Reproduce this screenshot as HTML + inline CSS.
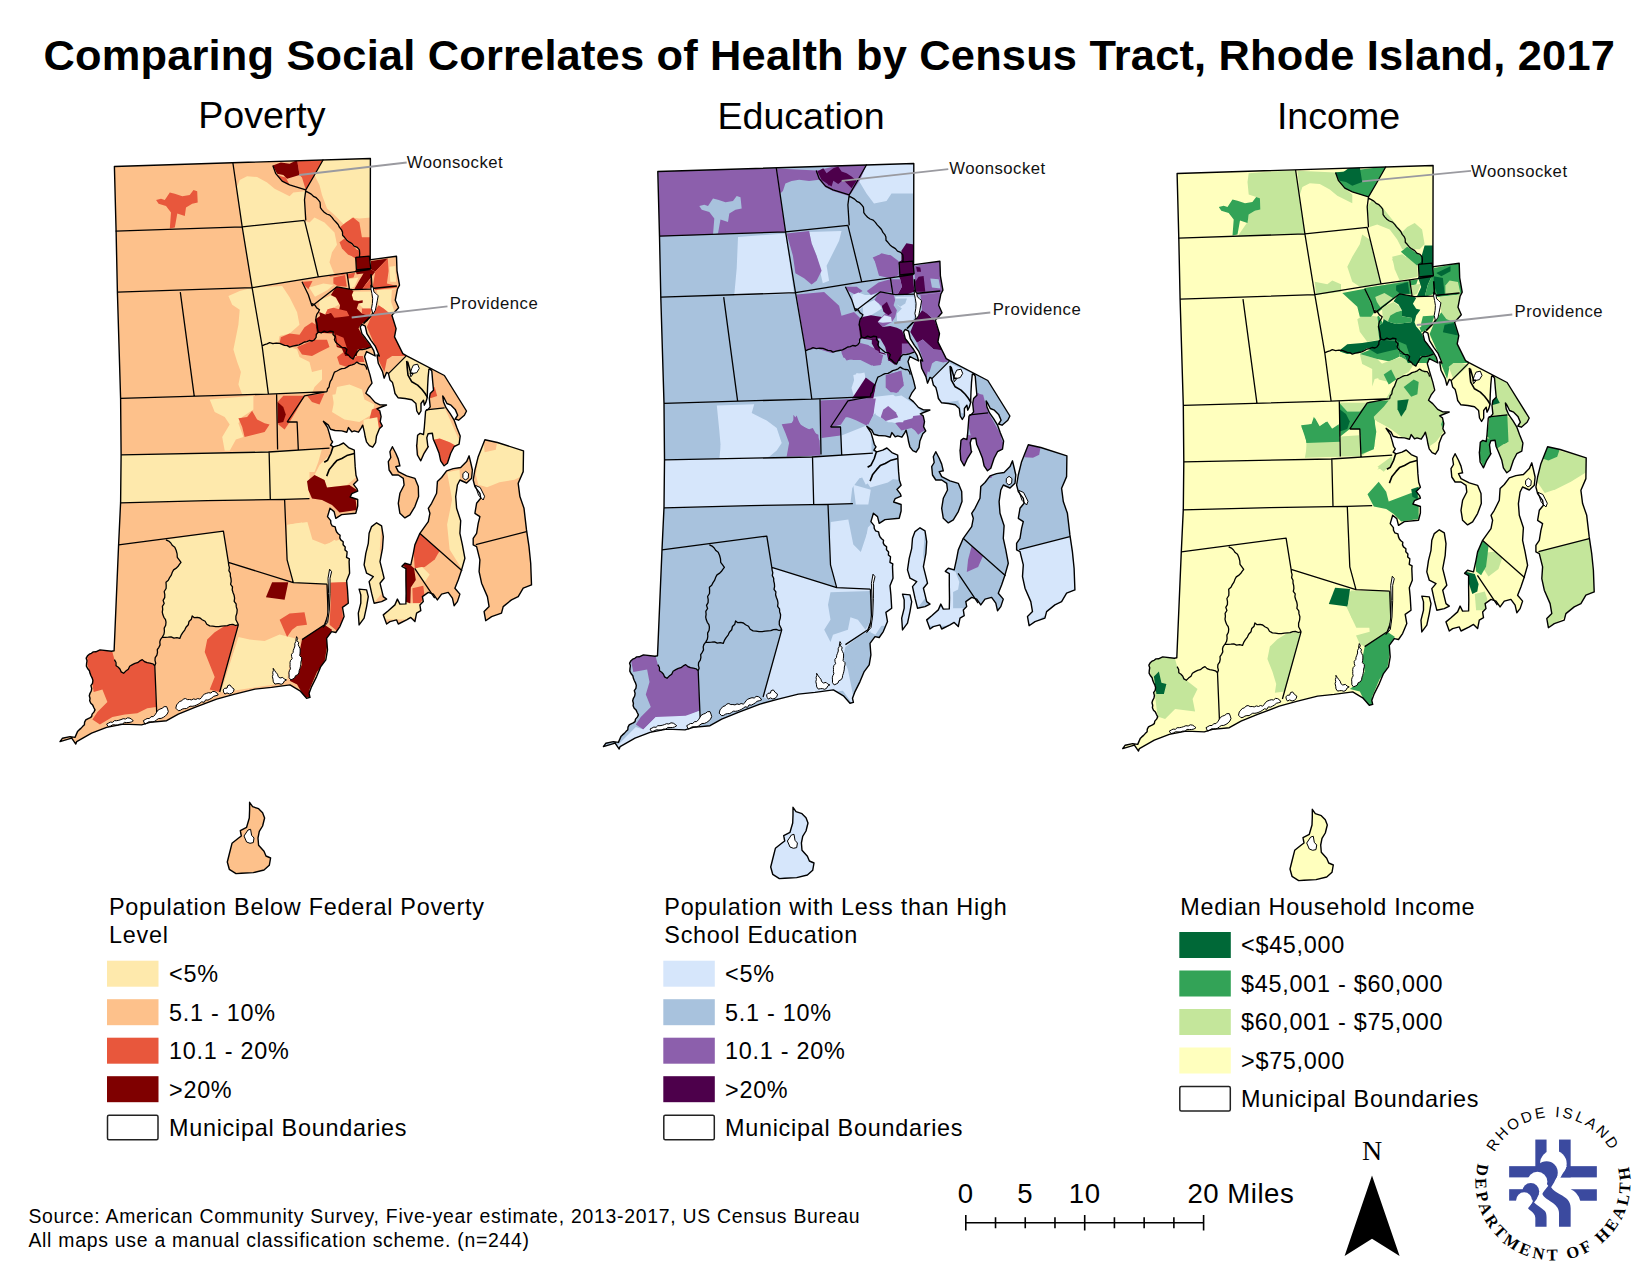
<!DOCTYPE html>
<html><head><meta charset="utf-8"><title>Comparing Social Correlates of Health by Census Tract, Rhode Island, 2017</title>
<style>
html,body{margin:0;padding:0;background:#fff}
svg{display:block}
text{font-family:"Liberation Sans",sans-serif;fill:#000}
.ttl{font-size:43.4px;font-weight:bold;letter-spacing:0.19px}
.sub{font-size:37.6px}
.lg{font-size:23.4px;letter-spacing:0.73px}
.lb{font-size:16.7px;fill:#111;letter-spacing:0.5px}
.sb{font-size:27.6px;letter-spacing:0.5px}
.src{font-size:19.4px;letter-spacing:0.74px}
</style></head><body>
<svg width="1651" height="1275" viewBox="0 0 1651 1275">
<rect width="1651" height="1275" fill="#fff"/>
<text x="829.3" y="69.5" class="ttl" text-anchor="middle">Comparing Social Correlates of Health by Census Tract, Rhode Island, 2017</text>
<text x="261.9" y="128.2" class="sub" text-anchor="middle">Poverty</text>
<text x="801" y="129" class="sub" text-anchor="middle">Education</text>
<text x="1338.5" y="129" class="sub" text-anchor="middle">Income</text>

<g transform="translate(0 0)">
<clipPath id="clip1"><path d="M114.4 166.5 L370.4 158.5 L370.2 259.8 L371 259.6 L396.5 256.3 L397 270.9 L399.5 285.1 L397.4 289.3 L395.3 300.2 L398.6 307.7 L391.9 315.2 L396.1 328.6 L394.5 336.9 L402.8 353.6 L406.7 355.9 L444.4 375.5 L466.5 411 L464.4 415.2 L458.6 420.2 L455.2 419 L457.7 415.2 L455.2 409.4 L451 405.2 L446.9 403.5 L444.4 398.5 L442.7 396 L443.5 401.9 L446 407.7 L450.2 413.6 L454 419.8 L456.9 427.8 L460.2 436.1 L459.9 438.3 L459.1 444.2 L454.1 446.7 L450.7 453.3 L447.4 463.3 L444.1 465.8 L440.7 460.8 L439.1 453.3 L435.8 445 L433.3 439.2 L432.4 433.3 L432.2 433.3 L428.1 433.8 L426.8 437.8 L427.8 446 L428.3 446.7 L424.1 453.3 L420.8 460.8 L417.4 455 L416.6 445 L416.8 445 L417.6 435.3 L420.1 433.4 L423.5 434.5 L424.3 427.8 L425.6 411 L428.1 409.4 L430.2 406.9 L429.3 398.5 L430.2 393.5 L433.5 390.2 L432.7 381.8 L431.8 370.9 L430.2 369.3 L428.9 369.3 L428.1 377.6 L427.6 386.8 L427.2 397.7 L426 401.9 L424.3 405.2 L423.5 400.2 L421 403.5 L421 411 L418.9 414.4 L416.8 411 L415.9 403.5 L411.8 399.8 L405.1 398.5 L398 397.7 L395 393.5 L393.8 387.6 L392.5 382.6 L390 380.1 L388.4 373.4 L386.6 372.4 L384.1 378.2 L382.5 371.6 L378.3 363.3 L377 354.9 L379.4 356 L375.2 346.1 L371 340.3 L366.9 333.6 L365.2 326.1 L361.9 324.4 L360.2 326.9 L361.9 333.6 L365.2 337.8 L370.2 344.5 L373.6 350.3 L375.2 356 L366.6 351.6 L364.6 356.6 L367.5 366.6 L370 374.9 L372 383.2 L368.3 388.2 L365.8 393.2 L370 396.6 L375 402.4 L380 404.9 L386.5 405 L380.2 407.5 L376.9 408.8 L379.8 410.9 L381.1 416.7 L380.2 421.7 L382.3 425.9 L379.4 428.8 L376.5 435.9 L375.6 442.6 L372.7 447.2 L369.4 445.6 L366.5 441.8 L365.2 436.8 L364.4 432.2 L362.7 425.1 L361.4 427.6 L358.5 432.2 L354.3 430.9 L351.8 431.8 L348.5 427.6 L346.8 432.2 L341.8 430.9 L335.1 430.5 L330.5 429.3 L328.4 425.1 L323.4 421.3 L327.6 427.6 L329.3 433.4 L330.9 439.3 L332.6 441.8 L330.5 445.1 L333.4 446.8 L339.3 445.1 L343.5 443 L348.5 447.6 L354.3 450.2 L354.7 458.5 L355.2 466.9 L356 475.2 L357.7 480.2 L353.5 484.4 L356.8 488.6 L357.7 491.1 L351.8 493.6 L350.2 497 L357.7 499.5 L357.7 506 L355.8 513.3 L341.6 514.6 L335.8 518.3 L334.1 511.6 L330 508.3 L327.5 516.6 L329.1 518.6 L330.7 520.6 L330.8 523.3 L332.1 525.8 L335.2 526.9 L335.8 529.9 L336.7 532 L338.2 533.7 L340.1 535.3 L339.8 537.9 L340.8 539.9 L343.2 541.8 L343.1 544.8 L345.2 546.9 L345 549.9 L347.1 551.8 L346.9 554.5 L346.5 557.3 L349.4 558.9 L349.1 561.6 L349.6 573.2 L346.6 580.7 L347.5 589.9 L348.3 603.2 L342.5 607.4 L344.1 616.6 L339.9 626.6 L335.8 632.5 L331.6 631.6 L326.6 638.3 L327.5 649.9 L325.8 659.9 L320.8 666.6 L316.6 676.6 L311.6 686.6 L309.1 693.3 L310 697.4 L306.6 698.2 L300 690.8 L290 684.9 L271.5 687.4 L254.9 689.1 L234.9 694.1 L216.6 699.1 L194.9 707.4 L178.3 714.1 L166.6 720.7 L149.9 722.4 L141.6 724.9 L123.3 724.1 L106.6 727.4 L91.6 733.2 L76.7 741.6 L75.8 744.1 L71.7 738.2 L60 741.6 L62.5 738.2 L70 736.6 L75 737.4 L77.5 731.6 L79.1 729.9 L80.9 728.4 L82.5 726.6 L84.4 724.8 L84.6 722.1 L85.8 719.9 L87.7 718.8 L89.8 717.9 L91.6 716.6 L92.1 714.1 L93.9 712.1 L95 709.9 L93.8 707.5 L92.7 705.1 L90.8 703.2 L89.7 700.8 L90 698.3 L89.3 695.8 L90 693.3 L91.3 691 L91.7 688.4 L90.9 685.6 L92.5 683.3 L92.9 680.5 L92.2 678.1 L91 675.7 L90 673.3 L89.4 670.7 L87.6 668.5 L86.4 666.1 L86.6 663.3 L87 660.8 L86.2 658.2 L87.5 655.8 L89.3 654.2 L91.4 653.3 L93.3 651.9 L95.8 651.8 L97.9 650.8 L100 649.9 L111.6 651.3 L114.1 650.8 L118.6 544.8 L120.6 502.4 L121.1 455 L120.6 398.3 L117.4 292.2 L116.1 231.1Z M469.1 455.8 L470.7 462.5 L472.4 470 L471.6 478.3 L466.6 483 L459.9 480 L457.4 485 L455.7 496.6 L456.6 508.3 L460.7 520.8 L459.9 533.3 L462.4 544.9 L464.9 558.3 L461.6 569.9 L458.2 579.9 L454.9 588.2 L459.9 594.1 L457.4 601.6 L454.1 605.7 L452.4 598.2 L448.2 592.4 L441.6 594.1 L437.4 599.9 L433.3 594.1 L428.3 592.4 L422.4 596.6 L423.3 601.6 L419.9 604.9 L420.8 610.7 L416.6 613.2 L414.9 621.6 L410.8 617.4 L406.6 619.9 L398.3 624 L396.6 619.9 L389.9 621.6 L386.6 624 L383.3 614.9 L388.3 610.7 L394.9 604.9 L397.4 599.1 L399.9 604.1 L405.9 603.9 L406.1 593.2 L405.9 579.9 L405.9 568.6 L401.9 566.3 L404.9 563.3 L410.8 564.9 L413.3 553.3 L414.9 544.9 L419.9 533.3 L428.3 521.6 L429.9 513.3 L428.3 508.3 L431.6 503.3 L436.6 493.3 L437.4 481.6 L441.6 477.5 L446.6 470.8 L453.2 468.6 L460.7 467.5 L466.6 461.6Z M376.6 522.8 L381.6 525.8 L383.3 536.6 L382.5 548.3 L380 561.6 L382.5 571.6 L384.1 578.2 L380 583.2 L383.3 596.6 L386.6 599.1 L381.6 601.6 L374.1 603.2 L371.6 593.2 L369.1 581.6 L373.3 576.6 L366.6 573.2 L364.1 564.9 L365.8 553.3 L368.3 543.3 L369.1 533.3 L371.6 526.6Z M359.1 589.1 L366.6 589.9 L368.3 596.6 L366.6 606.6 L364.1 618.2 L359.1 624.9 L358.3 613.2 L360.8 603.2 L360.8 594.9Z M392.4 446.7 L395.8 453.3 L398.3 459.1 L399.9 465.8 L395.8 466.6 L398.3 471.6 L406.6 475.8 L414.9 478.3 L418.3 486.6 L418.6 496.6 L414.9 506.6 L409.9 514.9 L404.9 517.9 L399.9 513.3 L398.3 503.3 L399.9 493.3 L404.1 485 L403.3 478.3 L398.3 475 L392.4 475 L389.1 470 L388.3 461.6 L390.8 457.5 L389.9 451.7Z M484.9 439.7 L497.4 442.5 L523.5 450.8 L523.2 471.6 L518.2 483.3 L519.9 496.6 L524 508.3 L526.5 529.9 L529 546.6 L530.7 563.3 L531.5 584.9 L523.2 588.2 L518.2 596.6 L511.5 599.9 L503.2 606.6 L501.5 613.2 L491.6 616.6 L485.7 620.7 L484.1 611.6 L489.1 606.6 L487.4 596.6 L481.6 583.2 L479.1 571.6 L479.9 559.9 L476.6 546.6 L473.2 544.9 L473.2 538.3 L476.6 533.3 L478.2 523.3 L479.9 516.6 L474.9 513.3 L476.6 503.3 L480.7 498.3 L479.9 493.3 L474.9 486.6 L473.2 480 L474.9 470 L478.2 456.7Z M249.6 802.3 L252.6 806.7 L258.6 808.7 L262.6 812.7 L264.6 818 L262.6 826 L259.3 831.3 L258 838 L258.6 845.3 L264 851.3 L266 856 L270.6 858 L269.3 865.3 L264 870 L253.3 872.6 L241.3 873.3 L236 873.6 L229.3 869.3 L227.3 862 L229.3 854 L232 843.3 L238.6 838 L241.3 836 L240.3 830.6 L246.6 827.3 L249.3 818 L249.6 810Z"/></clipPath>
<path d="M114.4 166.5 L370.4 158.5 L370.2 259.8 L371 259.6 L396.5 256.3 L397 270.9 L399.5 285.1 L397.4 289.3 L395.3 300.2 L398.6 307.7 L391.9 315.2 L396.1 328.6 L394.5 336.9 L402.8 353.6 L406.7 355.9 L444.4 375.5 L466.5 411 L464.4 415.2 L458.6 420.2 L455.2 419 L457.7 415.2 L455.2 409.4 L451 405.2 L446.9 403.5 L444.4 398.5 L442.7 396 L443.5 401.9 L446 407.7 L450.2 413.6 L454 419.8 L456.9 427.8 L460.2 436.1 L459.9 438.3 L459.1 444.2 L454.1 446.7 L450.7 453.3 L447.4 463.3 L444.1 465.8 L440.7 460.8 L439.1 453.3 L435.8 445 L433.3 439.2 L432.4 433.3 L432.2 433.3 L428.1 433.8 L426.8 437.8 L427.8 446 L428.3 446.7 L424.1 453.3 L420.8 460.8 L417.4 455 L416.6 445 L416.8 445 L417.6 435.3 L420.1 433.4 L423.5 434.5 L424.3 427.8 L425.6 411 L428.1 409.4 L430.2 406.9 L429.3 398.5 L430.2 393.5 L433.5 390.2 L432.7 381.8 L431.8 370.9 L430.2 369.3 L428.9 369.3 L428.1 377.6 L427.6 386.8 L427.2 397.7 L426 401.9 L424.3 405.2 L423.5 400.2 L421 403.5 L421 411 L418.9 414.4 L416.8 411 L415.9 403.5 L411.8 399.8 L405.1 398.5 L398 397.7 L395 393.5 L393.8 387.6 L392.5 382.6 L390 380.1 L388.4 373.4 L386.6 372.4 L384.1 378.2 L382.5 371.6 L378.3 363.3 L377 354.9 L379.4 356 L375.2 346.1 L371 340.3 L366.9 333.6 L365.2 326.1 L361.9 324.4 L360.2 326.9 L361.9 333.6 L365.2 337.8 L370.2 344.5 L373.6 350.3 L375.2 356 L366.6 351.6 L364.6 356.6 L367.5 366.6 L370 374.9 L372 383.2 L368.3 388.2 L365.8 393.2 L370 396.6 L375 402.4 L380 404.9 L386.5 405 L380.2 407.5 L376.9 408.8 L379.8 410.9 L381.1 416.7 L380.2 421.7 L382.3 425.9 L379.4 428.8 L376.5 435.9 L375.6 442.6 L372.7 447.2 L369.4 445.6 L366.5 441.8 L365.2 436.8 L364.4 432.2 L362.7 425.1 L361.4 427.6 L358.5 432.2 L354.3 430.9 L351.8 431.8 L348.5 427.6 L346.8 432.2 L341.8 430.9 L335.1 430.5 L330.5 429.3 L328.4 425.1 L323.4 421.3 L327.6 427.6 L329.3 433.4 L330.9 439.3 L332.6 441.8 L330.5 445.1 L333.4 446.8 L339.3 445.1 L343.5 443 L348.5 447.6 L354.3 450.2 L354.7 458.5 L355.2 466.9 L356 475.2 L357.7 480.2 L353.5 484.4 L356.8 488.6 L357.7 491.1 L351.8 493.6 L350.2 497 L357.7 499.5 L357.7 506 L355.8 513.3 L341.6 514.6 L335.8 518.3 L334.1 511.6 L330 508.3 L327.5 516.6 L329.1 518.6 L330.7 520.6 L330.8 523.3 L332.1 525.8 L335.2 526.9 L335.8 529.9 L336.7 532 L338.2 533.7 L340.1 535.3 L339.8 537.9 L340.8 539.9 L343.2 541.8 L343.1 544.8 L345.2 546.9 L345 549.9 L347.1 551.8 L346.9 554.5 L346.5 557.3 L349.4 558.9 L349.1 561.6 L349.6 573.2 L346.6 580.7 L347.5 589.9 L348.3 603.2 L342.5 607.4 L344.1 616.6 L339.9 626.6 L335.8 632.5 L331.6 631.6 L326.6 638.3 L327.5 649.9 L325.8 659.9 L320.8 666.6 L316.6 676.6 L311.6 686.6 L309.1 693.3 L310 697.4 L306.6 698.2 L300 690.8 L290 684.9 L271.5 687.4 L254.9 689.1 L234.9 694.1 L216.6 699.1 L194.9 707.4 L178.3 714.1 L166.6 720.7 L149.9 722.4 L141.6 724.9 L123.3 724.1 L106.6 727.4 L91.6 733.2 L76.7 741.6 L75.8 744.1 L71.7 738.2 L60 741.6 L62.5 738.2 L70 736.6 L75 737.4 L77.5 731.6 L79.1 729.9 L80.9 728.4 L82.5 726.6 L84.4 724.8 L84.6 722.1 L85.8 719.9 L87.7 718.8 L89.8 717.9 L91.6 716.6 L92.1 714.1 L93.9 712.1 L95 709.9 L93.8 707.5 L92.7 705.1 L90.8 703.2 L89.7 700.8 L90 698.3 L89.3 695.8 L90 693.3 L91.3 691 L91.7 688.4 L90.9 685.6 L92.5 683.3 L92.9 680.5 L92.2 678.1 L91 675.7 L90 673.3 L89.4 670.7 L87.6 668.5 L86.4 666.1 L86.6 663.3 L87 660.8 L86.2 658.2 L87.5 655.8 L89.3 654.2 L91.4 653.3 L93.3 651.9 L95.8 651.8 L97.9 650.8 L100 649.9 L111.6 651.3 L114.1 650.8 L118.6 544.8 L120.6 502.4 L121.1 455 L120.6 398.3 L117.4 292.2 L116.1 231.1Z M469.1 455.8 L470.7 462.5 L472.4 470 L471.6 478.3 L466.6 483 L459.9 480 L457.4 485 L455.7 496.6 L456.6 508.3 L460.7 520.8 L459.9 533.3 L462.4 544.9 L464.9 558.3 L461.6 569.9 L458.2 579.9 L454.9 588.2 L459.9 594.1 L457.4 601.6 L454.1 605.7 L452.4 598.2 L448.2 592.4 L441.6 594.1 L437.4 599.9 L433.3 594.1 L428.3 592.4 L422.4 596.6 L423.3 601.6 L419.9 604.9 L420.8 610.7 L416.6 613.2 L414.9 621.6 L410.8 617.4 L406.6 619.9 L398.3 624 L396.6 619.9 L389.9 621.6 L386.6 624 L383.3 614.9 L388.3 610.7 L394.9 604.9 L397.4 599.1 L399.9 604.1 L405.9 603.9 L406.1 593.2 L405.9 579.9 L405.9 568.6 L401.9 566.3 L404.9 563.3 L410.8 564.9 L413.3 553.3 L414.9 544.9 L419.9 533.3 L428.3 521.6 L429.9 513.3 L428.3 508.3 L431.6 503.3 L436.6 493.3 L437.4 481.6 L441.6 477.5 L446.6 470.8 L453.2 468.6 L460.7 467.5 L466.6 461.6Z M376.6 522.8 L381.6 525.8 L383.3 536.6 L382.5 548.3 L380 561.6 L382.5 571.6 L384.1 578.2 L380 583.2 L383.3 596.6 L386.6 599.1 L381.6 601.6 L374.1 603.2 L371.6 593.2 L369.1 581.6 L373.3 576.6 L366.6 573.2 L364.1 564.9 L365.8 553.3 L368.3 543.3 L369.1 533.3 L371.6 526.6Z M359.1 589.1 L366.6 589.9 L368.3 596.6 L366.6 606.6 L364.1 618.2 L359.1 624.9 L358.3 613.2 L360.8 603.2 L360.8 594.9Z M392.4 446.7 L395.8 453.3 L398.3 459.1 L399.9 465.8 L395.8 466.6 L398.3 471.6 L406.6 475.8 L414.9 478.3 L418.3 486.6 L418.6 496.6 L414.9 506.6 L409.9 514.9 L404.9 517.9 L399.9 513.3 L398.3 503.3 L399.9 493.3 L404.1 485 L403.3 478.3 L398.3 475 L392.4 475 L389.1 470 L388.3 461.6 L390.8 457.5 L389.9 451.7Z M484.9 439.7 L497.4 442.5 L523.5 450.8 L523.2 471.6 L518.2 483.3 L519.9 496.6 L524 508.3 L526.5 529.9 L529 546.6 L530.7 563.3 L531.5 584.9 L523.2 588.2 L518.2 596.6 L511.5 599.9 L503.2 606.6 L501.5 613.2 L491.6 616.6 L485.7 620.7 L484.1 611.6 L489.1 606.6 L487.4 596.6 L481.6 583.2 L479.1 571.6 L479.9 559.9 L476.6 546.6 L473.2 544.9 L473.2 538.3 L476.6 533.3 L478.2 523.3 L479.9 516.6 L474.9 513.3 L476.6 503.3 L480.7 498.3 L479.9 493.3 L474.9 486.6 L473.2 480 L474.9 470 L478.2 456.7Z M249.6 802.3 L252.6 806.7 L258.6 808.7 L262.6 812.7 L264.6 818 L262.6 826 L259.3 831.3 L258 838 L258.6 845.3 L264 851.3 L266 856 L270.6 858 L269.3 865.3 L264 870 L253.3 872.6 L241.3 873.3 L236 873.6 L229.3 869.3 L227.3 862 L229.3 854 L232 843.3 L238.6 838 L241.3 836 L240.3 830.6 L246.6 827.3 L249.3 818 L249.6 810Z" fill="#FDC18B"/>
<g clip-path="url(#clip1)">
<path d="M236.7 187.4 L239.7 179.9 L247.1 176.2 L257.1 177 L267.1 182.4 L274.6 188.7 L284.6 193.7 L289.6 196.2 L293.3 192.4 L305 191.2 L304.5 220.4 L242.2 226.9Z" fill="#FEE9AC"/>
<path d="M314.5 175 L323.3 159.5 L371.9 157.5 L371.9 217.4 L359.4 218.6 L352 217.4 L344.5 224.9 L334.5 214.9 L327 208.6 L322 194.9 L319.5 184.9Z" fill="#FEE9AC"/>
<path d="M242.2 226.9 L304.5 220.4 L318.3 276.8 L252.1 287.7Z" fill="#FEE9AC"/>
<path d="M309.5 222.4 L314.5 217.4 L324.5 222.4 L334.5 232.4 L337 244.8 L332 252.3 L329.5 262.3 L334.5 274.8 L318.3 276.8 L305 221.1Z" fill="#FEE9AC"/>
<path d="M228.4 296 L239.7 291 L252.1 287.7 L262.1 345.9 L268.4 394.1 L242.2 394.6 L238.4 384.6 L240.9 372.1 L237.2 362.1 L233.4 349.6 L235.9 337.2 L238.4 324.7 L239.7 309.7 L232.2 304.7Z" fill="#FEE9AC"/>
<path d="M252.1 287.7 L282.1 286 L289.6 297.2 L297.1 312.2 L299.5 324.7 L289.6 333.4 L279.6 335.9 L278.3 342.2 L269.6 342.6 L262.1 345.9Z" fill="#FEE9AC"/>
<path d="M262.1 345.9 L269.6 342.6 L279.6 343.4 L289.6 347.1 L297.1 349.6 L299.5 357.1 L309.5 362.1 L312 372.1 L322 369.6 L322 379.6 L314.5 387.1 L312 393.3 L268.4 394.1Z" fill="#FEE9AC"/>
<path d="M349.5 291 L371.9 289.7 L370.7 299.7 L374.4 309.7 L364.4 309.7 L358.2 304.7 L352 299.7Z" fill="#FEE9AC"/>
<path d="M376.9 289.7 L386.9 288.5 L389.4 299.7 L396.9 309.7 L381.9 304.7 L379.4 299.7Z" fill="#FEE9AC"/>
<path d="M209.7 399.5 L253.4 395.8 L253.4 409.5 L242.2 417 L238.4 423.3 L243.4 437 L235.9 439.5 L229.7 450.7 L224.7 450.7 L222.2 437 L229.7 424.5 L224.7 417 L214.7 412Z" fill="#FEE9AC"/>
<path d="M337 387.1 L349.5 384.6 L361.9 389.6 L364.4 399.5 L374.4 404.5 L371.9 414.5 L359.4 422 L344.5 419.5 L332 412 L334.5 399.5Z" fill="#FEE9AC"/>
<path d="M121.1 454.9 L268.4 452 L322 448.7 L318.3 461.9 L314.5 471.9 L121.1 471.9Z" fill="#FEE9AC"/>
<path d="M156.1 199.9 L161 198.7 L164.8 199.9 L169.8 192.4 L174.8 193.7 L182.3 196.2 L189.7 194.9 L193.5 189.9 L197.2 191.2 L197.7 202.4 L192.2 203.7 L186 207.4 L184.8 216.1 L177.3 213.6 L174.8 227.4 L169.8 228.6 L171 212.4 L166 206.1 L158.6 203.7Z" fill="#E8573C"/>
<path d="M297.1 160 L323.3 159.5 L314.5 175 L305.8 189.9 L302 177.5 L299.5 175Z" fill="#E8573C"/>
<path d="M275.8 173.7 L282.1 181.2 L289.6 184.9 L285.8 177.5 L280.8 176.2Z" fill="#E8573C"/>
<path d="M339.5 227.4 L345.7 222.4 L353.2 217.4 L359.4 222.4 L361.9 237.3 L371.9 237.3 L371.9 259.8 L359.4 257.3 L359.4 249.8 L352 243.6 L344.5 237.3Z" fill="#E8573C"/>
<path d="M339.5 242.3 L344.5 238.6 L352 244.8 L358.2 251.1 L355.7 257.3 L348.2 254.8 L342 248.6Z" fill="#E8573C"/>
<path d="M371.9 259.8 L386.9 257.8 L388.1 287.3 L371.9 288.5 L374.4 274.8Z" fill="#E8573C"/>
<path d="M329.5 276 L345.7 273.5 L347 284.8 L337 286.8 L330.7 283.5Z" fill="#E8573C"/>
<path d="M304.5 283.5 L310.8 282.3 L312 289.7 L307 291Z" fill="#E8573C"/>
<path d="M280.8 337.2 L289.6 333.4 L299.5 334.7 L304.5 327.2 L312 322.2 L315.8 324.7 L318.3 332.2 L314.5 339.7 L302 343.4 L289.6 347.1 L279.6 343.4Z" fill="#E8573C"/>
<path d="M297.1 347.1 L314.5 339.7 L327 339.7 L329.5 347.1 L319.5 352.1 L312 355.9 L302 354.6Z" fill="#E8573C"/>
<path d="M366.9 322.2 L371.9 314.7 L379.4 304.7 L384.4 309.7 L394.4 314.7 L405.6 355.9 L394.4 354.6 L386.9 359.6 L384.4 372.1 L379.4 362.1 L374.4 347.1Z" fill="#E8573C"/>
<path d="M337 357.1 L347 349.6 L353.2 359.1 L361.9 352.1 L364.4 362.1 L356.9 362.1 L347 367.1 L339.5 364.6Z" fill="#E8573C"/>
<path d="M283.3 395.8 L304.5 395.8 L297.1 409.5 L289.6 422 L284.6 429.5 L278.3 424.5 L277.6 402Z" fill="#E8573C"/>
<path d="M307 395.8 L324.5 393.3 L319.5 404.5 L312 402Z" fill="#E8573C"/>
<path d="M238.4 418.3 L247.1 417 L252.1 410.8 L257.1 419.5 L264.6 423.3 L269.6 424.5 L264.6 432 L254.6 434.5 L244.6 437 L242.2 427Z" fill="#E8573C"/>
<path d="M371.9 409.5 L379.4 407 L381.9 429.5 L374.4 427 L369.4 419.5Z" fill="#E8573C"/>
<path d="M322 307.2 L327 303.5 L337 304.7 L342 309.7 L332 312.2 L322 314.7Z" fill="#E8573C"/>
<path d="M272.8 165.5 L280.8 162.5 L289.6 163.7 L297.1 160 L299.5 175 L287.1 178.7 L283.3 175 L277.1 173.7Z" fill="#7F0000"/>
<path d="M355.7 257.3 L369.4 256.1 L370.7 268.5 L356.4 269.8Z" fill="#7F0000"/>
<path d="M370.7 261 L384.4 259.8 L374.4 274.8 L369.4 288.5 L356.9 289.7 L355.7 282.3 L361.9 269.8Z" fill="#7F0000"/>
<path d="M337 286.8 L352 289.7 L353.2 299.7 L361.9 301 L356.9 309.7 L361.9 319.7 L366.9 324.7 L371.9 347.1 L359.4 349.6 L353.2 359.1 L345.7 353.4 L347 349.6 L335.7 342.2 L333.2 331.7 L318.3 332.2 L315.8 319.7 L322 314.7 L332 312.2 L342 309.7 L339.5 299.7 L332 294.7Z" fill="#7F0000"/>
<path d="M277.6 402 L283.3 407 L285.8 414.5 L283.3 422 L277.6 423.3Z" fill="#7F0000"/>
<path d="M121.1 455 L319.5 449.5 L317 462.5 L309.5 469.9 L309.5 498.6 L120.6 502.9Z" fill="#FEE9AC"/>
<path d="M166 539.8 L223.4 531.1 L228.4 562.3 L232.2 589.7 L237.2 609.7 L235.9 619.7 L238.4 624.7 L224.7 625.9 L209.7 625.9 L202.2 619.7 L192.2 615.9 L186 627.2 L179.8 638.4 L162.3 637.1 L166 622.2 L162.3 612.2 L164.8 594.7 L166 582.2 L172.3 572.3 L181 562.3 L177.3 557.3 L174.8 547.3Z" fill="#FEE9AC"/>
<path d="M287.1 524.8 L302 522.4 L307 539.8 L314.5 547.3 L327 544.8 L334.5 539.8 L344.5 547.3 L349.5 559.8 L348.2 579.7 L327 584.2 L293.3 582.7 L287.1 559.8Z" fill="#FEE9AC"/>
<path d="M238.4 637.1 L249.6 639.6 L264.6 640.9 L279.6 634.6 L289.6 637.1 L299.5 639.6 L300.8 654.6 L289.6 664.6 L287.1 679.6 L274.6 684.6 L257.1 687.1 L224.7 692 L220.9 692Z" fill="#FEE9AC"/>
<path d="M319.5 465 L329.5 455 L334.5 440 L356.9 440 L355.7 477.4 L347 484.9 L327 487.4 L324.5 479.9 L314.5 474.9Z" fill="#FEE9AC"/>
<path d="M87.4 654.6 L99.9 649.6 L112.4 652.1 L114.4 659.6 L116.1 665.8 L123.6 673.3 L132.4 664.6 L142.3 659.6 L154.8 665.8 L156.1 707 L147.3 708.3 L137.3 713.3 L124.9 714.5 L112.4 717 L99.9 724.5 L92.4 719.5 L97.4 712 L107.4 702 L102.4 689.5 L93.7 692 L91.2 677.1 L87.4 664.6Z" fill="#E8573C"/>
<path d="M224.7 625.9 L238.4 624.7 L219.7 692 L209.7 689.5 L214.7 677.1 L209.7 664.6 L204.7 652.1 L207.2 639.6 L214.7 632.2Z" fill="#E8573C"/>
<path d="M279.6 619.7 L289.6 613.4 L304.5 612.2 L307 624.7 L297.1 625.9 L292.1 629.7 L287.1 637.1Z" fill="#E8573C"/>
<path d="M330.7 582.2 L347 581.7 L348.2 604.7 L342 607.2 L343.2 619.7 L337 630.9 L329.5 624.7 L330.7 602.2Z" fill="#E8573C"/>
<path d="M272.1 582.2 L288.3 582.2 L284.6 599.7 L265.9 597.2Z" fill="#7F0000"/>
<path d="M302 639.6 L324.5 624.7 L332 629.7 L327 647.1 L324.5 662.1 L317 672.1 L309.5 689.5 L310.8 697 L304.5 697 L297.1 684.6 L289.6 680.8 L297.1 674.6 L302 664.6 L299.5 652.1Z" fill="#7F0000"/>
<path d="M307 481.2 L314.5 474.9 L324.5 479.9 L327 487.4 L349.5 484.9 L356.9 489.9 L355.7 499.9 L356.9 509.9 L339.5 512.4 L332 504.9 L322 499.9 L312 498.6 L308.3 489.9Z" fill="#7F0000"/>
<path d="M332.4 394.8 L349.8 392.3 L359.8 404.8 L357.3 417.3 L344.8 417.3 L334.8 409.8Z" fill="#FEE9AC"/>
<path d="M363.5 419.8 L377.3 417.3 L379.8 434.8 L373.5 447.2 L364.8 441Z" fill="#FEE9AC"/>
<path d="M289.9 524.6 L307.4 522.1 L312.4 539.6 L324.9 544.6 L339.8 539.6 L347.3 547.1 L352.3 564.5 L349.8 582 L292.4 583.2 L286.2 549.5Z" fill="#FEE9AC"/>
<path d="M447.1 472.2 L459.6 469.7 L460.9 499.6 L464.6 524.6 L467.1 557 L462.1 569.5 L449.6 549.5 L447.1 524.6 L452.1 499.6Z" fill="#FEE9AC"/>
<path d="M419.7 533.3 L439.7 550.8 L434.7 559.5 L424.7 567 L414.7 568.3 L413.5 549.5Z" fill="#E8573C"/>
<path d="M401.6 564.1 L408.3 563.3 L414.1 568.2 L415.8 579.9 L410.8 587.4 L410.3 604.1 L405.9 604.1 L405.9 568.2Z" fill="#7F0000"/>
<path d="M412.4 588.2 L423.3 585.7 L424.6 596.6 L420.3 603.2 L412.9 603.6Z" fill="#E8573C"/>
<path d="M379.8 619.4 L399.7 599.5 L409.7 603.2 L422.2 603.2 L424.7 609.4 L412.2 619.4Z" fill="#FEE9AC"/>
<path d="M415.9 568.3 L422.2 567 L429.7 574.5 L424.7 582 L419.7 577Z" fill="#FEE9AC"/>
<path d="M484.6 437.3 L527 449.7 L524.5 474.7 L514.5 479.7 L499.5 482.2 L487.1 487.2 L478.3 484.7 L475.8 474.7 L478.3 459.7Z" fill="#FEE9AC"/>
<path d="M483.3 438.5 L497.1 442.2 L495.8 449.7 L484.6 452.2Z" fill="#FDC18B"/>
<path d="M388.5 373.6 L406 356.1 L429.7 367.4 L428.4 384.8 L429.7 399.8 L424.7 409.8 L444.6 407.8 L459.6 441 L458.4 447.2 L449.6 442.2 L439.7 438.5 L433.4 439.7 L424.7 449.7 L419.7 459.7 L417.2 439.7 L422.2 417.3 L414.7 409.8 L409.7 399.8 L397.2 397.3 L391 384.8Z" fill="#FEE9AC"/>
<path d="M363.5 448.5 L379.8 449.7 L384.8 479.7 L379.8 549.5 L384.8 589.5 L374.8 602 L357.3 609.4 L359.8 574.5 L364.8 524.6Z" fill="#FEE9AC"/>
<path d="M433.4 439.7 L439.7 438.5 L449.6 442.2 L458.4 447.2 L452.1 449.7 L447.1 463.5 L442.2 464.7 L439.7 454.7Z" fill="#E8573C"/>
<path d="M428.4 384.8 L434.7 387.3 L437.2 396.1 L429.7 398.6Z" fill="#E8573C"/>
<path d="M301.7 280.9 L346.8 274.2 L355.2 270.1 L355.2 256.7 L371 256.7 L371 259.6 L396.5 256.3 L399.5 285.1 L395.3 300.2 L398.6 307.7 L391.9 315.2 L396.1 328.6 L394.5 336.9 L402.8 353.6 L408.7 356 L345.1 356 L341.8 348.6 L336.8 347 L334.3 333.6 L316.7 332.7 L315 319.4 L320.1 316 L315 306.8 L309.2 299.3Z" fill="#FDC18B"/>
<path d="M345.1 250 L358.5 250 L360.2 255 L355.2 258.4 L350.2 255Z" fill="#E8573C"/>
<path d="M358.5 250 L371 250 L371 256.7 L358.5 255.9Z" fill="#E8573C"/>
<path d="M355.6 257.1 L369.8 256.3 L370.2 269.6 L356.8 270.5Z" fill="#7F0000"/>
<path d="M302.5 281.8 L312.5 280.9 L308.4 289.3 L305 285.9Z" fill="#E8573C"/>
<path d="M333.4 277.6 L345.1 275.1 L346.8 286.8 L337.6 285.9 L333.4 283.4Z" fill="#E8573C"/>
<path d="M309.2 287.6 L323.4 283.4 L333.4 285.1 L327.6 290.1 L315 296.8Z" fill="#FEE9AC"/>
<path d="M348.5 279.3 L358.5 277.6 L354.3 286.8 L350.2 288.4Z" fill="#FEE9AC"/>
<path d="M346.8 274.2 L355.2 272.6 L353.5 277.6 L347.6 278.4Z" fill="#E8573C"/>
<path d="M355.2 270.1 L369.4 268.4 L375.2 271.7 L365.2 285.1 L361.9 290.1 L354.3 289.3 L358.5 281.8 L363.5 273.4 L356.8 274.2Z" fill="#7F0000"/>
<path d="M365.2 285.1 L371.9 277.6 L371.9 287.6 L361.9 290.1Z" fill="#E8573C"/>
<path d="M371 260.9 L387.8 258.4 L375.2 271.7 L371 269.2Z" fill="#7F0000"/>
<path d="M375.2 271.7 L387.8 258.4 L388.6 270.9 L386.9 283.4 L397 285.9 L397.4 287.6 L375.2 290.1 L372.7 286.8Z" fill="#E8573C"/>
<path d="M389.4 266.7 L395.3 265.9 L396.1 281.8 L390.3 281.8Z" fill="#FEE9AC"/>
<path d="M376.9 290.1 L397.4 289.3 L395.3 300.2 L398.6 307.7 L391.9 315.2 L383.6 308.5 L378.6 305.2Z" fill="#FEE9AC"/>
<path d="M391.9 290.1 L397.6 289.1 L395.5 300.2 L398.8 307.7 L394.5 311.9 L391.1 301.8Z" fill="#FDC18B"/>
<path d="M378.6 305.2 L383.6 308.5 L391.9 315.2 L396.1 328.6 L394.5 336.9 L402.8 353.6 L408.7 356 L380.2 356 L375.2 346.1 L366.9 326.9 L371 316.9 L375.2 310.2Z" fill="#E8573C"/>
<path d="M353.5 291.8 L371 291.4 L371.9 308.5 L363.5 308.5 L358.5 303.5 L362.7 300.2 L358.5 301 L353.5 300.2 L351.8 295.1Z" fill="#FEE9AC"/>
<path d="M361.9 308.5 L371.9 308.5 L369.4 316 L361.9 313.5Z" fill="#E8573C"/>
<path d="M319.2 300.2 L330.9 295.6 L335.9 298.1 L339.3 304.3 L333.4 307.7 L327.6 309.3 L325.1 314.4 L319.6 311.9Z" fill="#FEE9AC"/>
<path d="M335.9 286.8 L350.2 289.3 L353.5 291 L351.8 295.1 L353.5 300.2 L358.5 301 L362.7 300.2 L362.7 302.7 L358.5 303.5 L356.8 308.5 L361.9 313.5 L369.4 316 L367.7 321 L363.5 322.7 L360.2 325.2 L358.5 328.6 L361.9 334.4 L371.9 347.8 L364.4 348.6 L357.7 349.5 L356.8 356 L345.1 356 L341.8 348.6 L336.8 347 L334.3 333.6 L316.7 332.7 L315 319.4 L320.1 316 L319.2 311.9 L325.1 314.4 L330.9 312.7 L339.3 309.3 L340.1 305.2 L335.9 297.6 L330.9 295.1Z" fill="#7F0000"/>
<path d="M325.1 314.4 L327.6 309.3 L333.4 307.7 L339.3 309.3 L346.8 311 L349.3 316 L341.8 316.9 L334.3 317.7 L330.9 312.7Z" fill="#E8573C"/>
<path d="M335.9 334.4 L343.5 337.8 L346.8 347.8 L337.6 346.1Z" fill="#E8573C"/>
<path d="M356.6 586.6 L369.1 586.6 L369.1 626.5 L356.6 626.5Z" fill="#FEE9AC"/>
</g>
<path d="M232.9 163 L242.2 226.9 M115.6 231.1 L242.2 226.9 L304.5 220.4 M272.8 165.5 L275.8 173.7 L282.1 181.2 L289.6 184.9 L305.8 189.9 L314.5 175 L323.3 159.5 M305.8 189.9 L304.5 199.9 L305.8 220.4 M305.8 191.2 L308.6 192.6 L311.2 194.1 L313.4 196.3 L316.2 197.7 L318.3 199.9 L320 202.1 L320.3 204.8 L320.4 207.7 L322 209.9 L324.2 212.2 L326.7 214 L329.8 215.1 L332 217.4 L333.8 219.9 L336.1 222.2 L338.1 224.5 L339.5 227.4 L341.4 229.6 L342.5 232.1 L342.6 235.2 L344.5 237.3 L346.6 239.9 L349.1 241.9 L352 243.6 L354.1 246.1 L357.3 247.3 L359.4 249.8 L359.7 253.6 L359.4 257.3 M242.2 226.9 L252.1 287.7 M304.5 220.4 L318.3 276.8 M117.4 292.2 L252.1 287.7 L318.3 276.8 L347 272.8 L370.7 269.3 M180.3 292.2 L194.2 395.8 M252.1 287.7 L262.1 345.9 L268.4 394.1 M120.6 398.3 L268.4 394.1 L327 391.6 M262.1 345.9 L264.6 344.7 L267.1 343.8 L269.6 342.6 L272.9 343.6 L276.3 343.1 L279.6 343.4 L282.1 344.3 L284.5 345.4 L287.3 345.6 L289.6 347.1 L292.7 346.2 L295.9 345.5 L299.1 344.8 L302 343.4 L304.3 342 L306.9 341.6 L309.3 340.5 L312.2 341 L314.5 339.7 L316.1 337.4 L316.3 334.3 L318.3 332.2 M318.3 332.2 L317.6 329.1 L317.3 325.9 L316.7 322.8 L315.8 319.7 L316.1 317 L316.8 314.4 L318.4 312.1 L319.5 309.7 L316.7 307.9 L314.9 305.1 L312 303.5 M302 281.8 L308.3 294.7 L312 306 M312 306 L337 286.8 L352 289.7 L371.9 289.2 M318.3 332.2 L321.3 332.9 L324.2 331.1 L327.3 332.3 L330.2 331.2 L333.2 331.7 L333 334.5 L335.3 336.7 L334.4 339.7 L335.7 342.2 L337.8 344 L339.9 345.7 L342 347.4 L345 347.7 L347 349.6 L345.7 353.4 L348.4 355.1 L350.5 357.5 L353.2 359.1 L354.4 356.5 L355.9 354.1 L357.4 351.7 L359.4 349.6 L362.4 349.6 L365.2 349 L368 348.2 L370.7 347.1 M347 272.8 L349.5 289.7 M371.9 288.5 L396.9 286 M327 391.6 L327.4 389 L329.1 386.8 L329.5 384.2 L330.2 381.7 L331.7 379.4 L332.6 377 L333.5 374.5 L334.5 372.1 L337 371 L339.3 369.7 L341.8 368.7 L344.6 368.4 L347 367.1 L349.3 365.6 L352.1 364.9 L354.7 363.8 L356.9 362.1 L359.2 363.6 L361.6 364.5 L364.4 364.6 L366.1 366.9 L366.9 369.6 M276.6 394.6 L277.6 449.5 M287.1 422 L304.5 395.8 L327 391.6 M287.1 422 L297.1 422 L298.3 449.5 M121.1 454.9 L268.4 452 L329.5 448.2 M355.7 257.3 L369.4 256.1 L370.7 268.5 L356.4 269.8 L355.7 257.3 M269.1 451.2 L270.3 499.4 M120.6 502.9 L207.2 500.6 L284.6 499.4 L309.5 498.6 M284.6 499.4 L287.1 559.8 L293.3 582.7 M118.6 544.8 L223.4 531.1 L228.4 562.3 L293.3 582.7 L327 584.2 M166 539.8 L168.7 541.1 L170.8 543 L172.5 545.6 L174.8 547.3 L176.2 550.5 L177.1 553.8 L177.3 557.3 L179.2 559.8 L181 562.3 L179.4 564.4 L177.9 566.6 L175.9 568.4 L173.6 569.9 L172.3 572.3 L171.3 575.1 L169.6 577.6 L168.3 580.2 L166 582.2 L166.2 585.4 L166.1 588.5 L164.2 591.5 L164.8 594.7 L164.7 597.7 L163.1 600.4 L164.2 603.5 L162.4 606.3 L162.7 609.3 L162.3 612.2 L162.9 614.8 L163.9 617.3 L165.5 619.6 L166 622.2 L165.7 625.3 L164.2 628.1 L164.4 631.3 L163.9 634.3 L162.3 637.1 M228.4 562.3 L228.7 565.1 L229.4 567.7 L228.9 570.6 L230.3 573.2 L230.3 576 L231 578.7 L231.2 581.5 L230.6 584.3 L232.5 586.9 L232.2 589.7 L233 592.5 L234.1 595.3 L234.6 598.2 L234.2 601.3 L236.1 603.9 L236.3 606.9 L237.2 609.7 L236.9 613.1 L235.9 616.3 L235.9 619.7 L237.2 622.2 L238.4 624.7 M162.3 637.1 L165.2 637.4 L168.2 637.2 L171.1 636.9 L173.9 638.2 L176.9 637.7 L179.8 638.4 L181 635.4 L182.7 632.7 L184.7 630.1 L186 627.2 L188.3 624.8 L189 621.5 L191.4 619.2 L192.2 615.9 L194.4 617.7 L197.4 617.4 L200 618 L202.2 619.7 L205.1 621.3 L206.8 624.3 L209.7 625.9 L212.7 626.1 L215.7 626.7 L218.7 626.7 L221.7 626.2 L224.7 625.9 L227.4 625.7 L230.1 624.6 L232.8 624.3 L235.7 625.5 L238.4 624.7 M238.4 624.7 L219.7 692 M114.4 659.6 L116 662.5 L116.1 665.8 L118.3 667.3 L120.1 669.3 L121.2 671.9 L123.6 673.3 L125.8 671.1 L128.3 669.2 L129.7 666.3 L132.4 664.6 L134.9 663.4 L137.6 662.7 L139.8 660.9 L142.3 659.6 L144.4 661.6 L147 662.7 L149.9 663.1 L152.7 663.8 L154.8 665.8 L155.7 663.2 L155 660.3 L155.2 657.6 L156.9 655.1 L157.5 652.4 L157.3 649.6 L158.9 647.3 L160.1 644.9 L159.8 641.9 L160.6 639.3 L162.3 637.1 M154.8 665.8 L156.8 714.5 M327 584.2 L328.2 614.7 L324.5 624.7 L302 639.6 M388.5 373.6 L406 356.1 M425.9 409.8 L444.6 407.8 M419.7 533.3 L462.1 570.8 M414.7 568.3 L434.7 598.2 M475.8 544.6 L526.5 531.6" fill="none" stroke="#000" stroke-width="1.3" stroke-linejoin="round"/>
<path d="M244 836 L248 830 L250.6 829.3 L251.6 835.3 L254 838 L253.3 842.6 L250 843.3 L246.6 842Z M370.7 285.1 L373.1 286.8 L373.9 291.8 L375.9 293.5 L378.2 295.8 L377.4 300.2 L376.4 305.2 L375.4 310.2 L372.9 314.2 L371.5 308.5 L372.4 303.5 L372.7 298.5 L371.9 293.5 L371 289.3Z M413.4 365.1 L417.6 364.2 L419.3 368.4 L416.8 372.6 L413.4 373.4 L410.9 376.8 L410.1 373.4 L411.8 368.4Z M296.6 636.6 L297.6 638.5 L296.8 640.8 L298.8 642.4 L298.2 644.7 L299.1 646.6 L300.1 648.7 L300.2 651 L300 653.3 L299.7 655.7 L301.6 657.6 L301.6 659.9 L300.9 662 L300.9 664.1 L300.5 666.2 L300 668.3 L299.2 670.5 L298.9 672.9 L297.5 674.9 L295.5 675.7 L294.6 678 L292.8 679 L290.8 679.9 L289.1 677.7 L289.1 674.9 L288.9 672.8 L289.4 670.7 L290.5 668.8 L290 666.6 L290.1 664.6 L290 662.5 L290.5 660.5 L292.2 658.7 L291.6 656.6 L291.5 654.3 L293.1 652.5 L293.3 650.3 L294.1 648.3 L294.9 646 L294.8 643.6 L295.9 641.4 L296.1 638.9Z M329.6 569.2 L331.6 571.7 L330 578.3 L330 593.3 L329.3 610 L327.6 622.5 L323.3 627.5 L326.6 621.6 L328.1 610 L328.6 593.3 L328 578.3Z M106.6 724.1 L108.5 723.1 L110.4 722.1 L112.7 722.3 L114.4 720.7 L116.6 720.7 L118.8 720.3 L121 719.6 L123.2 718.7 L125.5 719 L127.6 717.8 L130 718.2 L131.7 719.4 L133.3 720.7 L131.3 722 L129 722.5 L126.7 722.5 L124.3 722.4 L122.4 724.2 L120 724.1 L117.8 725.1 L115.3 724.9 L112.8 724.8 L110.6 726 L108.3 726.6Z M143.3 720.7 L145.2 719.6 L147.1 718.5 L149.4 718.5 L151 716.7 L153.3 716.6 L155 714.8 L156.4 712.7 L157.7 710.4 L159.9 709.1 L162.1 708.3 L164.1 706.7 L166.6 706.6 L167.6 709.1 L168.3 711.6 L167.2 714 L165.5 715.9 L163.3 717.4 L161.1 718.4 L158.6 718.5 L156.6 719.9 L154.9 721.2 L152.9 721.8 L150.7 721.8 L148.5 721.9 L146.8 723.3 L144.9 724.1Z M176.6 704.9 L178.1 703.2 L179.5 701.5 L181.8 700.8 L183.3 699.1 L185.4 698.5 L187.4 699.6 L189.5 699.5 L191.6 699.9 L193.6 698.9 L195.8 699.5 L197.7 698.5 L199.9 699.1 L201.5 697.6 L202.7 695.6 L204.4 694.2 L206.6 693.3 L208.6 692.7 L210.9 693 L212.7 691.4 L214.9 691.6 L216.9 692.9 L218.2 694.9 L216 695.7 L213.7 696.3 L211.9 697.9 L209.9 699.1 L208 700.1 L205.6 699.9 L204.2 702.3 L201.7 701.8 L199.9 703.2 L198.1 704.3 L196.2 705.2 L194.3 705.9 L192.2 706.3 L190 706.2 L188.2 707.4 L186.4 708.6 L184.2 708.6 L182.2 709.1 L180.4 710.3 L178.3 710.7 L175.8 708.2Z M223.2 689.9 L224.6 688.3 L227 688.1 L227.8 685.6 L229.9 684.9 L231.7 687.3 L234.1 689.1 L233.5 691.6 L231.6 693.3 L229.4 694 L227 692.9 L224.9 694.1 L223.6 692.2Z M475.2 485.3 L480.2 487.5 L484.6 496.3 L483.2 500 L478.6 495.3Z M462.9 473.6 L465.7 471.3 L468.6 473.6 L468.2 478.3 L465.2 480 L462.9 477.5Z M273.2 668.3 L274.5 670.3 L275.9 672.3 L277.5 674.2 L278.2 676.6 L280 678 L282.7 677.4 L284.4 679.1 L286.5 679.9 L284.3 681.1 L283.2 683.3 L281.2 684.3 L279 683.6 L277 683.7 L274.9 684.1 L273.3 681.9 L273 679.2 L272.4 676.6 L273 674.6 L272.7 672.4 L273.4 670.4Z" fill="#fff" stroke="#000" stroke-width="1"/>
<path d="M406.7 360.9 L407.2 367.6 L408 375.1 L411.8 381.8 L417.6 385.1 L421.8 389.3 L425.1 393.5 L427.6 397.7 M407.6 361.7 L409.3 367.6 L410.9 373.4 L413.4 373.4 M354.3 453.5 L346.8 455.6 L341.8 458.5 L336.8 460.6 L333.4 464.4 L329.3 469.4 L326.7 476.1 M333 446.8 L330.9 453.5 L327.6 460.2 L324.2 462.3 M372.7 313.5 L370.2 316.9 L367.7 319.4 L363.5 323.6 M371 274.2 L371.9 287.6" fill="none" stroke="#000" stroke-width="1.6" stroke-linejoin="round"/>
<path d="M114.4 166.5 L370.4 158.5 L370.2 259.8 L371 259.6 L396.5 256.3 L397 270.9 L399.5 285.1 L397.4 289.3 L395.3 300.2 L398.6 307.7 L391.9 315.2 L396.1 328.6 L394.5 336.9 L402.8 353.6 L406.7 355.9 L444.4 375.5 L466.5 411 L464.4 415.2 L458.6 420.2 L455.2 419 L457.7 415.2 L455.2 409.4 L451 405.2 L446.9 403.5 L444.4 398.5 L442.7 396 L443.5 401.9 L446 407.7 L450.2 413.6 L454 419.8 L456.9 427.8 L460.2 436.1 L459.9 438.3 L459.1 444.2 L454.1 446.7 L450.7 453.3 L447.4 463.3 L444.1 465.8 L440.7 460.8 L439.1 453.3 L435.8 445 L433.3 439.2 L432.4 433.3 L432.2 433.3 L428.1 433.8 L426.8 437.8 L427.8 446 L428.3 446.7 L424.1 453.3 L420.8 460.8 L417.4 455 L416.6 445 L416.8 445 L417.6 435.3 L420.1 433.4 L423.5 434.5 L424.3 427.8 L425.6 411 L428.1 409.4 L430.2 406.9 L429.3 398.5 L430.2 393.5 L433.5 390.2 L432.7 381.8 L431.8 370.9 L430.2 369.3 L428.9 369.3 L428.1 377.6 L427.6 386.8 L427.2 397.7 L426 401.9 L424.3 405.2 L423.5 400.2 L421 403.5 L421 411 L418.9 414.4 L416.8 411 L415.9 403.5 L411.8 399.8 L405.1 398.5 L398 397.7 L395 393.5 L393.8 387.6 L392.5 382.6 L390 380.1 L388.4 373.4 L386.6 372.4 L384.1 378.2 L382.5 371.6 L378.3 363.3 L377 354.9 L379.4 356 L375.2 346.1 L371 340.3 L366.9 333.6 L365.2 326.1 L361.9 324.4 L360.2 326.9 L361.9 333.6 L365.2 337.8 L370.2 344.5 L373.6 350.3 L375.2 356 L366.6 351.6 L364.6 356.6 L367.5 366.6 L370 374.9 L372 383.2 L368.3 388.2 L365.8 393.2 L370 396.6 L375 402.4 L380 404.9 L386.5 405 L380.2 407.5 L376.9 408.8 L379.8 410.9 L381.1 416.7 L380.2 421.7 L382.3 425.9 L379.4 428.8 L376.5 435.9 L375.6 442.6 L372.7 447.2 L369.4 445.6 L366.5 441.8 L365.2 436.8 L364.4 432.2 L362.7 425.1 L361.4 427.6 L358.5 432.2 L354.3 430.9 L351.8 431.8 L348.5 427.6 L346.8 432.2 L341.8 430.9 L335.1 430.5 L330.5 429.3 L328.4 425.1 L323.4 421.3 L327.6 427.6 L329.3 433.4 L330.9 439.3 L332.6 441.8 L330.5 445.1 L333.4 446.8 L339.3 445.1 L343.5 443 L348.5 447.6 L354.3 450.2 L354.7 458.5 L355.2 466.9 L356 475.2 L357.7 480.2 L353.5 484.4 L356.8 488.6 L357.7 491.1 L351.8 493.6 L350.2 497 L357.7 499.5 L357.7 506 L355.8 513.3 L341.6 514.6 L335.8 518.3 L334.1 511.6 L330 508.3 L327.5 516.6 L329.1 518.6 L330.7 520.6 L330.8 523.3 L332.1 525.8 L335.2 526.9 L335.8 529.9 L336.7 532 L338.2 533.7 L340.1 535.3 L339.8 537.9 L340.8 539.9 L343.2 541.8 L343.1 544.8 L345.2 546.9 L345 549.9 L347.1 551.8 L346.9 554.5 L346.5 557.3 L349.4 558.9 L349.1 561.6 L349.6 573.2 L346.6 580.7 L347.5 589.9 L348.3 603.2 L342.5 607.4 L344.1 616.6 L339.9 626.6 L335.8 632.5 L331.6 631.6 L326.6 638.3 L327.5 649.9 L325.8 659.9 L320.8 666.6 L316.6 676.6 L311.6 686.6 L309.1 693.3 L310 697.4 L306.6 698.2 L300 690.8 L290 684.9 L271.5 687.4 L254.9 689.1 L234.9 694.1 L216.6 699.1 L194.9 707.4 L178.3 714.1 L166.6 720.7 L149.9 722.4 L141.6 724.9 L123.3 724.1 L106.6 727.4 L91.6 733.2 L76.7 741.6 L75.8 744.1 L71.7 738.2 L60 741.6 L62.5 738.2 L70 736.6 L75 737.4 L77.5 731.6 L79.1 729.9 L80.9 728.4 L82.5 726.6 L84.4 724.8 L84.6 722.1 L85.8 719.9 L87.7 718.8 L89.8 717.9 L91.6 716.6 L92.1 714.1 L93.9 712.1 L95 709.9 L93.8 707.5 L92.7 705.1 L90.8 703.2 L89.7 700.8 L90 698.3 L89.3 695.8 L90 693.3 L91.3 691 L91.7 688.4 L90.9 685.6 L92.5 683.3 L92.9 680.5 L92.2 678.1 L91 675.7 L90 673.3 L89.4 670.7 L87.6 668.5 L86.4 666.1 L86.6 663.3 L87 660.8 L86.2 658.2 L87.5 655.8 L89.3 654.2 L91.4 653.3 L93.3 651.9 L95.8 651.8 L97.9 650.8 L100 649.9 L111.6 651.3 L114.1 650.8 L118.6 544.8 L120.6 502.4 L121.1 455 L120.6 398.3 L117.4 292.2 L116.1 231.1Z M469.1 455.8 L470.7 462.5 L472.4 470 L471.6 478.3 L466.6 483 L459.9 480 L457.4 485 L455.7 496.6 L456.6 508.3 L460.7 520.8 L459.9 533.3 L462.4 544.9 L464.9 558.3 L461.6 569.9 L458.2 579.9 L454.9 588.2 L459.9 594.1 L457.4 601.6 L454.1 605.7 L452.4 598.2 L448.2 592.4 L441.6 594.1 L437.4 599.9 L433.3 594.1 L428.3 592.4 L422.4 596.6 L423.3 601.6 L419.9 604.9 L420.8 610.7 L416.6 613.2 L414.9 621.6 L410.8 617.4 L406.6 619.9 L398.3 624 L396.6 619.9 L389.9 621.6 L386.6 624 L383.3 614.9 L388.3 610.7 L394.9 604.9 L397.4 599.1 L399.9 604.1 L405.9 603.9 L406.1 593.2 L405.9 579.9 L405.9 568.6 L401.9 566.3 L404.9 563.3 L410.8 564.9 L413.3 553.3 L414.9 544.9 L419.9 533.3 L428.3 521.6 L429.9 513.3 L428.3 508.3 L431.6 503.3 L436.6 493.3 L437.4 481.6 L441.6 477.5 L446.6 470.8 L453.2 468.6 L460.7 467.5 L466.6 461.6Z M376.6 522.8 L381.6 525.8 L383.3 536.6 L382.5 548.3 L380 561.6 L382.5 571.6 L384.1 578.2 L380 583.2 L383.3 596.6 L386.6 599.1 L381.6 601.6 L374.1 603.2 L371.6 593.2 L369.1 581.6 L373.3 576.6 L366.6 573.2 L364.1 564.9 L365.8 553.3 L368.3 543.3 L369.1 533.3 L371.6 526.6Z M359.1 589.1 L366.6 589.9 L368.3 596.6 L366.6 606.6 L364.1 618.2 L359.1 624.9 L358.3 613.2 L360.8 603.2 L360.8 594.9Z M392.4 446.7 L395.8 453.3 L398.3 459.1 L399.9 465.8 L395.8 466.6 L398.3 471.6 L406.6 475.8 L414.9 478.3 L418.3 486.6 L418.6 496.6 L414.9 506.6 L409.9 514.9 L404.9 517.9 L399.9 513.3 L398.3 503.3 L399.9 493.3 L404.1 485 L403.3 478.3 L398.3 475 L392.4 475 L389.1 470 L388.3 461.6 L390.8 457.5 L389.9 451.7Z M484.9 439.7 L497.4 442.5 L523.5 450.8 L523.2 471.6 L518.2 483.3 L519.9 496.6 L524 508.3 L526.5 529.9 L529 546.6 L530.7 563.3 L531.5 584.9 L523.2 588.2 L518.2 596.6 L511.5 599.9 L503.2 606.6 L501.5 613.2 L491.6 616.6 L485.7 620.7 L484.1 611.6 L489.1 606.6 L487.4 596.6 L481.6 583.2 L479.1 571.6 L479.9 559.9 L476.6 546.6 L473.2 544.9 L473.2 538.3 L476.6 533.3 L478.2 523.3 L479.9 516.6 L474.9 513.3 L476.6 503.3 L480.7 498.3 L479.9 493.3 L474.9 486.6 L473.2 480 L474.9 470 L478.2 456.7Z M249.6 802.3 L252.6 806.7 L258.6 808.7 L262.6 812.7 L264.6 818 L262.6 826 L259.3 831.3 L258 838 L258.6 845.3 L264 851.3 L266 856 L270.6 858 L269.3 865.3 L264 870 L253.3 872.6 L241.3 873.3 L236 873.6 L229.3 869.3 L227.3 862 L229.3 854 L232 843.3 L238.6 838 L241.3 836 L240.3 830.6 L246.6 827.3 L249.3 818 L249.6 810Z" fill="none" stroke="#000" stroke-width="1.4" stroke-linejoin="round"/>
</g>
<g transform="translate(0 0)">
<path d="M299.3 175L406.7 162.5" stroke="#9a9aa0" stroke-width="1.8" fill="none"/>
<path d="M351.7 317.5L447.5 306.3" stroke="#9a9aa0" stroke-width="1.8" fill="none"/>
<text x="406.7" y="168.3" class="lb">Woonsocket</text>
<text x="449.7" y="309.2" class="lb">Providence</text>
</g>
<g transform="translate(543.4 5)">
<clipPath id="clip2"><path d="M114.4 166.5 L370.4 158.5 L370.2 259.8 L371 259.6 L396.5 256.3 L397 270.9 L399.5 285.1 L397.4 289.3 L395.3 300.2 L398.6 307.7 L391.9 315.2 L396.1 328.6 L394.5 336.9 L402.8 353.6 L406.7 355.9 L444.4 375.5 L466.5 411 L464.4 415.2 L458.6 420.2 L455.2 419 L457.7 415.2 L455.2 409.4 L451 405.2 L446.9 403.5 L444.4 398.5 L442.7 396 L443.5 401.9 L446 407.7 L450.2 413.6 L454 419.8 L456.9 427.8 L460.2 436.1 L459.9 438.3 L459.1 444.2 L454.1 446.7 L450.7 453.3 L447.4 463.3 L444.1 465.8 L440.7 460.8 L439.1 453.3 L435.8 445 L433.3 439.2 L432.4 433.3 L432.2 433.3 L428.1 433.8 L426.8 437.8 L427.8 446 L428.3 446.7 L424.1 453.3 L420.8 460.8 L417.4 455 L416.6 445 L416.8 445 L417.6 435.3 L420.1 433.4 L423.5 434.5 L424.3 427.8 L425.6 411 L428.1 409.4 L430.2 406.9 L429.3 398.5 L430.2 393.5 L433.5 390.2 L432.7 381.8 L431.8 370.9 L430.2 369.3 L428.9 369.3 L428.1 377.6 L427.6 386.8 L427.2 397.7 L426 401.9 L424.3 405.2 L423.5 400.2 L421 403.5 L421 411 L418.9 414.4 L416.8 411 L415.9 403.5 L411.8 399.8 L405.1 398.5 L398 397.7 L395 393.5 L393.8 387.6 L392.5 382.6 L390 380.1 L388.4 373.4 L386.6 372.4 L384.1 378.2 L382.5 371.6 L378.3 363.3 L377 354.9 L379.4 356 L375.2 346.1 L371 340.3 L366.9 333.6 L365.2 326.1 L361.9 324.4 L360.2 326.9 L361.9 333.6 L365.2 337.8 L370.2 344.5 L373.6 350.3 L375.2 356 L366.6 351.6 L364.6 356.6 L367.5 366.6 L370 374.9 L372 383.2 L368.3 388.2 L365.8 393.2 L370 396.6 L375 402.4 L380 404.9 L386.5 405 L380.2 407.5 L376.9 408.8 L379.8 410.9 L381.1 416.7 L380.2 421.7 L382.3 425.9 L379.4 428.8 L376.5 435.9 L375.6 442.6 L372.7 447.2 L369.4 445.6 L366.5 441.8 L365.2 436.8 L364.4 432.2 L362.7 425.1 L361.4 427.6 L358.5 432.2 L354.3 430.9 L351.8 431.8 L348.5 427.6 L346.8 432.2 L341.8 430.9 L335.1 430.5 L330.5 429.3 L328.4 425.1 L323.4 421.3 L327.6 427.6 L329.3 433.4 L330.9 439.3 L332.6 441.8 L330.5 445.1 L333.4 446.8 L339.3 445.1 L343.5 443 L348.5 447.6 L354.3 450.2 L354.7 458.5 L355.2 466.9 L356 475.2 L357.7 480.2 L353.5 484.4 L356.8 488.6 L357.7 491.1 L351.8 493.6 L350.2 497 L357.7 499.5 L357.7 506 L355.8 513.3 L341.6 514.6 L335.8 518.3 L334.1 511.6 L330 508.3 L327.5 516.6 L329.1 518.6 L330.7 520.6 L330.8 523.3 L332.1 525.8 L335.2 526.9 L335.8 529.9 L336.7 532 L338.2 533.7 L340.1 535.3 L339.8 537.9 L340.8 539.9 L343.2 541.8 L343.1 544.8 L345.2 546.9 L345 549.9 L347.1 551.8 L346.9 554.5 L346.5 557.3 L349.4 558.9 L349.1 561.6 L349.6 573.2 L346.6 580.7 L347.5 589.9 L348.3 603.2 L342.5 607.4 L344.1 616.6 L339.9 626.6 L335.8 632.5 L331.6 631.6 L326.6 638.3 L327.5 649.9 L325.8 659.9 L320.8 666.6 L316.6 676.6 L311.6 686.6 L309.1 693.3 L310 697.4 L306.6 698.2 L300 690.8 L290 684.9 L271.5 687.4 L254.9 689.1 L234.9 694.1 L216.6 699.1 L194.9 707.4 L178.3 714.1 L166.6 720.7 L149.9 722.4 L141.6 724.9 L123.3 724.1 L106.6 727.4 L91.6 733.2 L76.7 741.6 L75.8 744.1 L71.7 738.2 L60 741.6 L62.5 738.2 L70 736.6 L75 737.4 L77.5 731.6 L79.1 729.9 L80.9 728.4 L82.5 726.6 L84.4 724.8 L84.6 722.1 L85.8 719.9 L87.7 718.8 L89.8 717.9 L91.6 716.6 L92.1 714.1 L93.9 712.1 L95 709.9 L93.8 707.5 L92.7 705.1 L90.8 703.2 L89.7 700.8 L90 698.3 L89.3 695.8 L90 693.3 L91.3 691 L91.7 688.4 L90.9 685.6 L92.5 683.3 L92.9 680.5 L92.2 678.1 L91 675.7 L90 673.3 L89.4 670.7 L87.6 668.5 L86.4 666.1 L86.6 663.3 L87 660.8 L86.2 658.2 L87.5 655.8 L89.3 654.2 L91.4 653.3 L93.3 651.9 L95.8 651.8 L97.9 650.8 L100 649.9 L111.6 651.3 L114.1 650.8 L118.6 544.8 L120.6 502.4 L121.1 455 L120.6 398.3 L117.4 292.2 L116.1 231.1Z M469.1 455.8 L470.7 462.5 L472.4 470 L471.6 478.3 L466.6 483 L459.9 480 L457.4 485 L455.7 496.6 L456.6 508.3 L460.7 520.8 L459.9 533.3 L462.4 544.9 L464.9 558.3 L461.6 569.9 L458.2 579.9 L454.9 588.2 L459.9 594.1 L457.4 601.6 L454.1 605.7 L452.4 598.2 L448.2 592.4 L441.6 594.1 L437.4 599.9 L433.3 594.1 L428.3 592.4 L422.4 596.6 L423.3 601.6 L419.9 604.9 L420.8 610.7 L416.6 613.2 L414.9 621.6 L410.8 617.4 L406.6 619.9 L398.3 624 L396.6 619.9 L389.9 621.6 L386.6 624 L383.3 614.9 L388.3 610.7 L394.9 604.9 L397.4 599.1 L399.9 604.1 L405.9 603.9 L406.1 593.2 L405.9 579.9 L405.9 568.6 L401.9 566.3 L404.9 563.3 L410.8 564.9 L413.3 553.3 L414.9 544.9 L419.9 533.3 L428.3 521.6 L429.9 513.3 L428.3 508.3 L431.6 503.3 L436.6 493.3 L437.4 481.6 L441.6 477.5 L446.6 470.8 L453.2 468.6 L460.7 467.5 L466.6 461.6Z M376.6 522.8 L381.6 525.8 L383.3 536.6 L382.5 548.3 L380 561.6 L382.5 571.6 L384.1 578.2 L380 583.2 L383.3 596.6 L386.6 599.1 L381.6 601.6 L374.1 603.2 L371.6 593.2 L369.1 581.6 L373.3 576.6 L366.6 573.2 L364.1 564.9 L365.8 553.3 L368.3 543.3 L369.1 533.3 L371.6 526.6Z M359.1 589.1 L366.6 589.9 L368.3 596.6 L366.6 606.6 L364.1 618.2 L359.1 624.9 L358.3 613.2 L360.8 603.2 L360.8 594.9Z M392.4 446.7 L395.8 453.3 L398.3 459.1 L399.9 465.8 L395.8 466.6 L398.3 471.6 L406.6 475.8 L414.9 478.3 L418.3 486.6 L418.6 496.6 L414.9 506.6 L409.9 514.9 L404.9 517.9 L399.9 513.3 L398.3 503.3 L399.9 493.3 L404.1 485 L403.3 478.3 L398.3 475 L392.4 475 L389.1 470 L388.3 461.6 L390.8 457.5 L389.9 451.7Z M484.9 439.7 L497.4 442.5 L523.5 450.8 L523.2 471.6 L518.2 483.3 L519.9 496.6 L524 508.3 L526.5 529.9 L529 546.6 L530.7 563.3 L531.5 584.9 L523.2 588.2 L518.2 596.6 L511.5 599.9 L503.2 606.6 L501.5 613.2 L491.6 616.6 L485.7 620.7 L484.1 611.6 L489.1 606.6 L487.4 596.6 L481.6 583.2 L479.1 571.6 L479.9 559.9 L476.6 546.6 L473.2 544.9 L473.2 538.3 L476.6 533.3 L478.2 523.3 L479.9 516.6 L474.9 513.3 L476.6 503.3 L480.7 498.3 L479.9 493.3 L474.9 486.6 L473.2 480 L474.9 470 L478.2 456.7Z M249.6 802.3 L252.6 806.7 L258.6 808.7 L262.6 812.7 L264.6 818 L262.6 826 L259.3 831.3 L258 838 L258.6 845.3 L264 851.3 L266 856 L270.6 858 L269.3 865.3 L264 870 L253.3 872.6 L241.3 873.3 L236 873.6 L229.3 869.3 L227.3 862 L229.3 854 L232 843.3 L238.6 838 L241.3 836 L240.3 830.6 L246.6 827.3 L249.3 818 L249.6 810Z"/></clipPath>
<path d="M114.4 166.5 L370.4 158.5 L370.2 259.8 L371 259.6 L396.5 256.3 L397 270.9 L399.5 285.1 L397.4 289.3 L395.3 300.2 L398.6 307.7 L391.9 315.2 L396.1 328.6 L394.5 336.9 L402.8 353.6 L406.7 355.9 L444.4 375.5 L466.5 411 L464.4 415.2 L458.6 420.2 L455.2 419 L457.7 415.2 L455.2 409.4 L451 405.2 L446.9 403.5 L444.4 398.5 L442.7 396 L443.5 401.9 L446 407.7 L450.2 413.6 L454 419.8 L456.9 427.8 L460.2 436.1 L459.9 438.3 L459.1 444.2 L454.1 446.7 L450.7 453.3 L447.4 463.3 L444.1 465.8 L440.7 460.8 L439.1 453.3 L435.8 445 L433.3 439.2 L432.4 433.3 L432.2 433.3 L428.1 433.8 L426.8 437.8 L427.8 446 L428.3 446.7 L424.1 453.3 L420.8 460.8 L417.4 455 L416.6 445 L416.8 445 L417.6 435.3 L420.1 433.4 L423.5 434.5 L424.3 427.8 L425.6 411 L428.1 409.4 L430.2 406.9 L429.3 398.5 L430.2 393.5 L433.5 390.2 L432.7 381.8 L431.8 370.9 L430.2 369.3 L428.9 369.3 L428.1 377.6 L427.6 386.8 L427.2 397.7 L426 401.9 L424.3 405.2 L423.5 400.2 L421 403.5 L421 411 L418.9 414.4 L416.8 411 L415.9 403.5 L411.8 399.8 L405.1 398.5 L398 397.7 L395 393.5 L393.8 387.6 L392.5 382.6 L390 380.1 L388.4 373.4 L386.6 372.4 L384.1 378.2 L382.5 371.6 L378.3 363.3 L377 354.9 L379.4 356 L375.2 346.1 L371 340.3 L366.9 333.6 L365.2 326.1 L361.9 324.4 L360.2 326.9 L361.9 333.6 L365.2 337.8 L370.2 344.5 L373.6 350.3 L375.2 356 L366.6 351.6 L364.6 356.6 L367.5 366.6 L370 374.9 L372 383.2 L368.3 388.2 L365.8 393.2 L370 396.6 L375 402.4 L380 404.9 L386.5 405 L380.2 407.5 L376.9 408.8 L379.8 410.9 L381.1 416.7 L380.2 421.7 L382.3 425.9 L379.4 428.8 L376.5 435.9 L375.6 442.6 L372.7 447.2 L369.4 445.6 L366.5 441.8 L365.2 436.8 L364.4 432.2 L362.7 425.1 L361.4 427.6 L358.5 432.2 L354.3 430.9 L351.8 431.8 L348.5 427.6 L346.8 432.2 L341.8 430.9 L335.1 430.5 L330.5 429.3 L328.4 425.1 L323.4 421.3 L327.6 427.6 L329.3 433.4 L330.9 439.3 L332.6 441.8 L330.5 445.1 L333.4 446.8 L339.3 445.1 L343.5 443 L348.5 447.6 L354.3 450.2 L354.7 458.5 L355.2 466.9 L356 475.2 L357.7 480.2 L353.5 484.4 L356.8 488.6 L357.7 491.1 L351.8 493.6 L350.2 497 L357.7 499.5 L357.7 506 L355.8 513.3 L341.6 514.6 L335.8 518.3 L334.1 511.6 L330 508.3 L327.5 516.6 L329.1 518.6 L330.7 520.6 L330.8 523.3 L332.1 525.8 L335.2 526.9 L335.8 529.9 L336.7 532 L338.2 533.7 L340.1 535.3 L339.8 537.9 L340.8 539.9 L343.2 541.8 L343.1 544.8 L345.2 546.9 L345 549.9 L347.1 551.8 L346.9 554.5 L346.5 557.3 L349.4 558.9 L349.1 561.6 L349.6 573.2 L346.6 580.7 L347.5 589.9 L348.3 603.2 L342.5 607.4 L344.1 616.6 L339.9 626.6 L335.8 632.5 L331.6 631.6 L326.6 638.3 L327.5 649.9 L325.8 659.9 L320.8 666.6 L316.6 676.6 L311.6 686.6 L309.1 693.3 L310 697.4 L306.6 698.2 L300 690.8 L290 684.9 L271.5 687.4 L254.9 689.1 L234.9 694.1 L216.6 699.1 L194.9 707.4 L178.3 714.1 L166.6 720.7 L149.9 722.4 L141.6 724.9 L123.3 724.1 L106.6 727.4 L91.6 733.2 L76.7 741.6 L75.8 744.1 L71.7 738.2 L60 741.6 L62.5 738.2 L70 736.6 L75 737.4 L77.5 731.6 L79.1 729.9 L80.9 728.4 L82.5 726.6 L84.4 724.8 L84.6 722.1 L85.8 719.9 L87.7 718.8 L89.8 717.9 L91.6 716.6 L92.1 714.1 L93.9 712.1 L95 709.9 L93.8 707.5 L92.7 705.1 L90.8 703.2 L89.7 700.8 L90 698.3 L89.3 695.8 L90 693.3 L91.3 691 L91.7 688.4 L90.9 685.6 L92.5 683.3 L92.9 680.5 L92.2 678.1 L91 675.7 L90 673.3 L89.4 670.7 L87.6 668.5 L86.4 666.1 L86.6 663.3 L87 660.8 L86.2 658.2 L87.5 655.8 L89.3 654.2 L91.4 653.3 L93.3 651.9 L95.8 651.8 L97.9 650.8 L100 649.9 L111.6 651.3 L114.1 650.8 L118.6 544.8 L120.6 502.4 L121.1 455 L120.6 398.3 L117.4 292.2 L116.1 231.1Z M469.1 455.8 L470.7 462.5 L472.4 470 L471.6 478.3 L466.6 483 L459.9 480 L457.4 485 L455.7 496.6 L456.6 508.3 L460.7 520.8 L459.9 533.3 L462.4 544.9 L464.9 558.3 L461.6 569.9 L458.2 579.9 L454.9 588.2 L459.9 594.1 L457.4 601.6 L454.1 605.7 L452.4 598.2 L448.2 592.4 L441.6 594.1 L437.4 599.9 L433.3 594.1 L428.3 592.4 L422.4 596.6 L423.3 601.6 L419.9 604.9 L420.8 610.7 L416.6 613.2 L414.9 621.6 L410.8 617.4 L406.6 619.9 L398.3 624 L396.6 619.9 L389.9 621.6 L386.6 624 L383.3 614.9 L388.3 610.7 L394.9 604.9 L397.4 599.1 L399.9 604.1 L405.9 603.9 L406.1 593.2 L405.9 579.9 L405.9 568.6 L401.9 566.3 L404.9 563.3 L410.8 564.9 L413.3 553.3 L414.9 544.9 L419.9 533.3 L428.3 521.6 L429.9 513.3 L428.3 508.3 L431.6 503.3 L436.6 493.3 L437.4 481.6 L441.6 477.5 L446.6 470.8 L453.2 468.6 L460.7 467.5 L466.6 461.6Z M376.6 522.8 L381.6 525.8 L383.3 536.6 L382.5 548.3 L380 561.6 L382.5 571.6 L384.1 578.2 L380 583.2 L383.3 596.6 L386.6 599.1 L381.6 601.6 L374.1 603.2 L371.6 593.2 L369.1 581.6 L373.3 576.6 L366.6 573.2 L364.1 564.9 L365.8 553.3 L368.3 543.3 L369.1 533.3 L371.6 526.6Z M359.1 589.1 L366.6 589.9 L368.3 596.6 L366.6 606.6 L364.1 618.2 L359.1 624.9 L358.3 613.2 L360.8 603.2 L360.8 594.9Z M392.4 446.7 L395.8 453.3 L398.3 459.1 L399.9 465.8 L395.8 466.6 L398.3 471.6 L406.6 475.8 L414.9 478.3 L418.3 486.6 L418.6 496.6 L414.9 506.6 L409.9 514.9 L404.9 517.9 L399.9 513.3 L398.3 503.3 L399.9 493.3 L404.1 485 L403.3 478.3 L398.3 475 L392.4 475 L389.1 470 L388.3 461.6 L390.8 457.5 L389.9 451.7Z M484.9 439.7 L497.4 442.5 L523.5 450.8 L523.2 471.6 L518.2 483.3 L519.9 496.6 L524 508.3 L526.5 529.9 L529 546.6 L530.7 563.3 L531.5 584.9 L523.2 588.2 L518.2 596.6 L511.5 599.9 L503.2 606.6 L501.5 613.2 L491.6 616.6 L485.7 620.7 L484.1 611.6 L489.1 606.6 L487.4 596.6 L481.6 583.2 L479.1 571.6 L479.9 559.9 L476.6 546.6 L473.2 544.9 L473.2 538.3 L476.6 533.3 L478.2 523.3 L479.9 516.6 L474.9 513.3 L476.6 503.3 L480.7 498.3 L479.9 493.3 L474.9 486.6 L473.2 480 L474.9 470 L478.2 456.7Z M249.6 802.3 L252.6 806.7 L258.6 808.7 L262.6 812.7 L264.6 818 L262.6 826 L259.3 831.3 L258 838 L258.6 845.3 L264 851.3 L266 856 L270.6 858 L269.3 865.3 L264 870 L253.3 872.6 L241.3 873.3 L236 873.6 L229.3 869.3 L227.3 862 L229.3 854 L232 843.3 L238.6 838 L241.3 836 L240.3 830.6 L246.6 827.3 L249.3 818 L249.6 810Z" fill="#A8C2DD"/>
<g clip-path="url(#clip2)">
<path d="M194.6 232.1 L242 228.4 L250.7 288.7 L190.8 290.7 L193.3 263.3Z" fill="#D6E6FB"/>
<path d="M265.7 227.1 L298.1 225.9 L295.7 235.8 L288.2 250.8 L283.2 260.8 L285.7 275.8 L279.4 278.3 L273.2 250.8 L268.2 238.3Z" fill="#D6E6FB"/>
<path d="M315.6 176 L323.1 159.7 L371.8 158 L371.8 188.4 L348.1 188.4 L343.1 195.9 L330.6 198.4 L323.1 188.4Z" fill="#D6E6FB"/>
<path d="M308.1 288.3 L323.1 290.7 L336.8 287.8 L318.1 303.2 L311.9 305.7Z" fill="#D6E6FB"/>
<path d="M351.8 293.2 L370.5 292 L370.5 310.7 L358 315.7 L351.8 310.7Z" fill="#D6E6FB"/>
<path d="M173.4 400.5 L210.8 399.3 L208.3 408 L223.3 415.5 L233.3 423 L238.3 438 L233.3 445.5 L225.8 451.7 L178.4 454.2 L175.9 425.5Z" fill="#D6E6FB"/>
<path d="M121 455.4 L268.2 453 L328.1 449.2 L318.1 472.9 L121 472.9Z" fill="#D6E6FB"/>
<path d="M333.1 394.3 L358 390.6 L373 400.5 L380.5 410.5 L370.5 413 L351.8 418 L343.1 415.5 L353 410.5 L345.6 401.8 L338.1 403 L329.3 410.5Z" fill="#D6E6FB"/>
<path d="M313.1 368.1 L320.6 369.4 L320.6 380.6 L310.6 391.8 L308.1 383.1Z" fill="#D6E6FB"/>
<path d="M298.1 430.5 L323.1 420.5 L328.1 425.5 L328.1 449.2 L298.1 450.5Z" fill="#D6E6FB"/>
<path d="M390.5 370.6 L405.5 358.1 L427.9 368.1 L427.9 390.6 L429.2 410.5 L417.9 408 L415.4 395.6 L398 398.1 L393 385.6Z" fill="#D6E6FB"/>
<path d="M114.7 166.5 L233.3 163.5 L242 227.1 L116 231.4Z" fill="#8C5FAC"/>
<path d="M155.9 200.9 L160.9 199.7 L164.6 200.9 L169.6 193.4 L174.6 194.7 L182.1 197.2 L189.6 195.9 L193.3 190.9 L197.1 192.2 L198.3 203.4 L192.1 204.7 L185.9 208.4 L184.6 217.1 L177.1 214.6 L174.6 228.4 L169.6 229.6 L170.9 213.4 L165.9 207.1 L158.4 204.7Z" fill="#A8C2DD"/>
<path d="M233.3 163.5 L273.2 165.5 L275.7 174.7 L265.7 176 L255.7 174.7 L248.2 176 L242 178.5 L239.5 185.9 L237 188.4Z" fill="#8C5FAC"/>
<path d="M273.2 165.5 L323.1 159.7 L314.4 176 L305.6 190.9 L289.4 185.9 L281.9 182.2 L275.7 174.7Z" fill="#8C5FAC"/>
<path d="M243.2 228.4 L265.7 225.9 L268.2 238.3 L273.2 250.8 L278.2 265.8 L273.2 275.8 L268.2 279.5 L260.7 273.3 L252 268.3 L249.5 250.8Z" fill="#8C5FAC"/>
<path d="M253.2 289.5 L280.7 287 L295.7 300.7 L298.1 310.7 L310.6 307 L316.9 313.2 L316.9 333.2 L313.1 340.7 L300.6 344.4 L288.2 348.1 L273.2 343.6 L262 345.6Z" fill="#8C5FAC"/>
<path d="M330.6 253.3 L338.1 248.3 L348.1 250.8 L358 258.3 L355.5 270.8 L346.8 273.3 L335.6 270.8Z" fill="#8C5FAC"/>
<path d="M305.6 280.8 L318.1 279.5 L330.6 278.3 L346.8 274.5 L348.1 290.7 L336.8 287.8 L323.1 290.7 L315.6 287 L308.1 288.3Z" fill="#8C5FAC"/>
<path d="M313.1 305.7 L336.8 287.8 L351.8 290.7 L351.8 300.7 L343.1 310.7 L335.6 310.7 L323.1 313.2Z" fill="#8C5FAC"/>
<path d="M370.5 260.8 L396.7 257.1 L398 287 L371.8 289.5Z" fill="#8C5FAC"/>
<path d="M378 290.7 L396.7 287.8 L399.2 300.7 L395.5 310.7 L385.5 305.7 L378 300.7Z" fill="#8C5FAC"/>
<path d="M298.1 348.1 L313.1 340.7 L325.6 340.7 L335.6 345.6 L338.1 358.1 L328.1 360.6 L313.1 353.1 L303.1 355.6Z" fill="#8C5FAC"/>
<path d="M358 340.7 L370.5 348.1 L358 350.6 L351.8 360.1 L348.1 350.6Z" fill="#8C5FAC"/>
<path d="M373 340.7 L380.5 335.7 L393 345.6 L404.2 356.9 L393 355.6 L385.5 360.6 L383 373.1 L378 363.1Z" fill="#8C5FAC"/>
<path d="M344.3 370.6 L358 365.6 L360.5 380.6 L353 388.1 L345.6 385.6Z" fill="#8C5FAC"/>
<path d="M338.1 403 L345.6 401.8 L353 410.5 L343.1 415.5 L336.8 410.5Z" fill="#8C5FAC"/>
<path d="M351.8 418 L370.5 413 L380.5 410.5 L381.7 425.5 L375.5 428 L368 423 L358 425.5Z" fill="#8C5FAC"/>
<path d="M276.9 395.6 L305.6 394.3 L318.1 395.6 L333.1 394.3 L329.3 410.5 L323.1 420.5 L313.1 415.5 L300.6 410.5 L288.2 423 L295.7 423 L296.9 430.5 L278.2 433Z" fill="#8C5FAC"/>
<path d="M238.3 419.3 L248.2 418 L253.2 410.5 L257 420.5 L265.7 424.3 L269.4 423 L276.2 435.5 L276.9 450.5 L243.2 451.7 L245.7 438 L242 428Z" fill="#8C5FAC"/>
<path d="M427.9 410.5 L445.4 408 L457.9 430.5 L457.9 450.5 L447.9 472.9 L442.9 472.9 L432.9 450.5 L427.9 430.5Z" fill="#8C5FAC"/>
<path d="M415.4 428 L427.9 430.5 L425.4 453 L419.2 465.4 L414.2 450.5Z" fill="#8C5FAC"/>
<path d="M429.2 390.6 L435.4 388.1 L445.4 408 L427.9 410.5Z" fill="#8C5FAC"/>
<path d="M274.4 166 L281.9 169.7 L286.9 163.5 L295.7 159.7 L303.1 161 L305.6 168.5 L298.1 176 L288.2 173.5 L285.7 180.9 L281.9 176Z" fill="#4D004B"/>
<path d="M358 245.8 L363 238.3 L371.8 239.6 L371.8 260.8 L358 258.3Z" fill="#4D004B"/>
<path d="M355.5 258.3 L369.3 257.1 L370.5 270.3 L356.3 271.3Z" fill="#4D004B"/>
<path d="M356.3 271.3 L370.5 270.3 L373 275.8 L370.5 289.5 L355.5 290.7 L356.8 280.8Z" fill="#4D004B"/>
<path d="M373 263.3 L380.5 270.8 L381.7 285.8 L374.3 287Z" fill="#4D004B"/>
<path d="M316.9 313.2 L325.6 310.7 L335.6 312 L343.1 318.2 L355.5 323.2 L360.5 335.7 L358 350.6 L351.8 360.1 L344.3 354.4 L345.6 350.6 L335.6 348.1 L333.1 335.7 L316.9 333.2Z" fill="#4D004B"/>
<path d="M339.3 295.7 L345.6 298.2 L350.6 310.7 L343.1 310.7Z" fill="#4D004B"/>
<path d="M365.5 325.7 L373 320.7 L378 305.7 L385.5 310.7 L395.5 325.7 L403 348.1 L393 343.2 L380.5 335.7 L373 340.7Z" fill="#4D004B"/>
<path d="M310.6 391.8 L321.9 374.3 L331.8 383.1 L329.3 393.1Z" fill="#4D004B"/>
<path d="M475.8 544.6 L526.5 531.6 L533.2 584.5 L519.5 599.5 L499.5 611.9 L484.6 620.7 L479.6 574.5Z" fill="#D6E6FB"/>
<path d="M363.5 448.5 L379.8 449.7 L384.8 479.7 L379.8 549.5 L384.8 589.5 L374.8 602 L357.3 609.4 L359.8 574.5 L364.8 524.6Z" fill="#D6E6FB"/>
<path d="M379.8 620.7 L399.7 599.5 L409.7 603.2 L422.2 603.2 L424.7 609.4 L412.2 620.7Z" fill="#D6E6FB"/>
<path d="M401 562 L412.2 567 L415.9 577 L414.7 584.5 L409.7 587 L409.7 603.2 L403.5 603.2Z" fill="#D6E6FB"/>
<path d="M287.4 517.1 L304.9 514.6 L309.9 539.6 L317.4 547.1 L324.9 524.6 L329.9 514.6 L349.8 549.5 L349.8 582 L292.4 583.2 L286.2 549.5Z" fill="#D6E6FB"/>
<path d="M331.1 582 L348.6 581.5 L349.8 620.7 L329.9 620.7Z" fill="#D6E6FB"/>
<path d="M250 574.5 L292.4 584.5 L287.4 594.5 L284.9 609.4 L289.9 620.7 L250 620.7Z" fill="#D6E6FB"/>
<path d="M250 452.2 L331.1 449.2 L334.8 454.7 L324.9 462.2 L314.9 474.7 L307.4 484.7 L306.1 498.4 L250 499.6Z" fill="#D6E6FB"/>
<path d="M324.9 447.2 L354.8 444.7 L357.3 459.7 L354.8 474.7 L332.4 472.2 L322.4 479.7 L317.4 469.7Z" fill="#D6E6FB"/>
<path d="M309.9 479.7 L327.4 484.7 L324.9 499.6 L312.4 499.6Z" fill="#D6E6FB"/>
<path d="M327.4 392.3 L349.8 389.8 L362.3 399.8 L359.8 417.3 L344.8 417.3 L332.4 409.8Z" fill="#D6E6FB"/>
<path d="M388.5 373.6 L406 356.1 L409.7 374.9 L402.2 382.4 L399.7 394.8 L393.5 387.3Z" fill="#D6E6FB"/>
<path d="M409.7 374.9 L429.7 367.4 L428.4 384.8 L422.2 399.8 L414.7 397.3 L419.7 384.8Z" fill="#D6E6FB"/>
<path d="M309.9 369.9 L321.1 367.4 L323.6 382.4 L312.4 386.1Z" fill="#D6E6FB"/>
<path d="M351.1 300 L369.8 300 L367.3 312.5 L357.3 317.5Z" fill="#D6E6FB"/>
<path d="M425.9 409.8 L444.6 407.8 L460.9 439.7 L459.6 446 L452.1 449.7 L447.1 463.5 L442.2 464.7 L439.7 454.7 L433.4 442.2 L428.4 434.8 L424.7 419.8Z" fill="#8C5FAC"/>
<path d="M428.4 387.3 L439.7 389.8 L444.6 407.8 L425.9 409.8Z" fill="#8C5FAC"/>
<path d="M415.9 432.3 L429.7 431 L428.4 449.7 L422.2 462.2 L415.9 449.7Z" fill="#8C5FAC"/>
<path d="M484.6 439.7 L497.1 442.7 L495.8 449.7 L489.6 452.7 L480.8 452.2Z" fill="#8C5FAC"/>
<path d="M428.4 540.8 L439.7 550.8 L434.7 562 L423.4 567 L424.7 554.5Z" fill="#8C5FAC"/>
<path d="M342.3 369.9 L357.3 366.1 L359.8 377.4 L354.8 387.3 L347.3 387.3 L342.3 382.4Z" fill="#8C5FAC"/>
<path d="M339.8 404.8 L344.8 401.1 L352.3 407.3 L354.8 412.3 L342.3 416 L337.3 412.3Z" fill="#8C5FAC"/>
<path d="M369.8 411 L379.8 409.8 L381 424.8 L374.8 429.8 L367.3 419.8Z" fill="#8C5FAC"/>
<path d="M277.5 396.1 L307.4 394.8 L287.4 422.3 L296.2 422.3 L297.4 429.8 L278.7 432.3Z" fill="#8C5FAC"/>
<path d="M307.4 394.8 L332.4 393.6 L329.9 409.8 L324.9 419.8 L314.9 412.3 L302.4 412.3 L297.4 419.8 L287.4 422.3Z" fill="#8C5FAC"/>
<path d="M250 409.8 L257.5 419.8 L265 424.8 L275 429.8 L276.2 449.7 L250 451Z" fill="#8C5FAC"/>
<path d="M297.4 344.9 L314.9 337.4 L324.9 339.9 L332.4 347.4 L339.8 349.9 L337.3 359.9 L329.9 361.1 L324.9 354.9 L309.9 354.9 L299.9 352.4Z" fill="#8C5FAC"/>
<path d="M367.3 325 L379.8 332.4 L394.7 339.9 L406 356.1 L399.7 357.4 L389.7 354.9 L386 367.4 L379.8 362.4 L374.8 349.9Z" fill="#8C5FAC"/>
<path d="M308.6 393.6 L322.4 372.4 L332.4 379.9 L329.9 393.6Z" fill="#4D004B"/>
<path d="M121.1 455 L269.1 451.2 L329.5 449.5 L319.5 462.5 L309.5 477.4 L307 498.6 L120.6 502.9Z" fill="#D6E6FB"/>
<path d="M228.4 562.3 L293.3 582.7 L327 584.2 L347 581 L348.2 599.7 L342 614.7 L332 629.7 L324.5 625.9 L314.5 632.2 L302 642.1 L299.5 652.1 L304.5 664.6 L309.5 689.5 L309.5 699.5 L299.5 685.8 L262.1 689.5 L224.7 694.5 L219.7 692 L238.4 624.7 L235.9 619.7 L237.2 609.7 L232.2 589.7Z" fill="#D6E6FB"/>
<path d="M287.1 587.2 L327 586 L328.2 614.7 L322 624.7 L314.5 614.7 L307 612.2 L304.5 624.7 L289.6 629.7 L287.1 637.1 L280.8 624.7 L287.1 614.7 L284.6 599.7Z" fill="#A8C2DD"/>
<path d="M309.5 639.6 L327 625.9 L325.7 647.1 L327 657.1 L320.8 669.6 L312 669.6 L309.5 654.6Z" fill="#A8C2DD"/>
<path d="M287.1 524.8 L302 522.4 L307 539.8 L318.3 549.8 L322 537.3 L324.5 522.4 L332 514.9 L344.5 547.3 L349.5 559.8 L348.2 579.7 L327 584.2 L293.3 582.7 L287.1 559.8Z" fill="#D6E6FB"/>
<path d="M319.5 465 L329.5 455 L334.5 440 L356.9 440 L355.7 469.9 L344.5 477.4 L327 482.4 L322 474.9Z" fill="#D6E6FB"/>
<path d="M87.4 654.6 L99.9 649.6 L112.4 652.1 L114.4 659.6 L116.1 665.8 L123.6 673.3 L132.4 664.6 L142.3 659.6 L154.8 665.8 L156.1 705.8 L144.8 710.8 L132.4 712 L112.4 712 L99.9 724.5 L92.4 719.5 L97.4 712 L107.4 702 L102.4 689.5 L106.1 677.1 L103.7 664.6 L89.9 667.1Z" fill="#8C5FAC"/>
<path d="M72.5 742 L92.4 722 L99.9 724.5 L112.4 712 L142.3 710.8 L156.1 705.8 L157.3 717 L142.3 727 L107.4 729.5 L77.5 746.9Z" fill="#D6E6FB"/>
<path d="M177.3 440 L224.7 440 L224.7 452.5 L176 453.7Z" fill="#D6E6FB"/>
<path d="M301.7 280.9 L346.8 274.2 L355.2 270.1 L355.2 256.7 L371 256.7 L371 259.6 L396.5 256.3 L399.5 285.1 L395.3 300.2 L398.6 307.7 L391.9 315.2 L396.1 328.6 L394.5 336.9 L402.8 353.6 L408.7 356 L345.1 356 L341.8 348.6 L336.8 347 L334.3 333.6 L316.7 332.7 L315 319.4 L320.1 316 L315 306.8 L309.2 299.3Z" fill="#A8C2DD"/>
<path d="M329.3 252.5 L335.1 250 L346.8 250 L354.3 257.5 L355.2 269.2 L340.1 270.9 L335.1 262.5Z" fill="#8C5FAC"/>
<path d="M355.2 257.5 L358.5 255 L360.2 250 L371 250 L371 269.2 L356.8 270.1Z" fill="#4D004B"/>
<path d="M371 260.9 L396.5 256.3 L399.5 285.1 L397.4 287.6 L375.2 290.1 L371.9 286.8Z" fill="#8C5FAC"/>
<path d="M386.9 273.4 L395.3 274.2 L397 283.4 L388.6 282.6Z" fill="#A8C2DD"/>
<path d="M355.2 270.1 L369.4 268.4 L371 286.8 L361.9 290.1 L354.3 289.3 L358.5 281.8 L356.8 274.2Z" fill="#4D004B"/>
<path d="M375.2 271.7 L380.2 270.9 L381.9 286.8 L372.7 286.8 L371.9 276.7Z" fill="#4D004B"/>
<path d="M372.7 261.7 L376.9 262.5 L377.7 266.7 L373.6 266.7Z" fill="#4D004B"/>
<path d="M346.8 274.2 L356.8 274.2 L358.5 281.8 L354.3 289.3 L349.3 288.4Z" fill="#8C5FAC"/>
<path d="M302.5 281.8 L313.4 281.8 L319.2 285.9 L312.5 290.1 L305 285.9Z" fill="#8C5FAC"/>
<path d="M323.4 285.9 L335.1 277.6 L346.8 274.2 L348.5 287.6 L335.9 286.8 L327.6 290.1Z" fill="#8C5FAC"/>
<path d="M309.2 290.1 L315 287.6 L321.7 290.1 L327.6 290.1 L332.6 289.3 L315 306 L309.2 299.3Z" fill="#D6E6FB"/>
<path d="M335.9 286.8 L350.2 289.3 L351.8 295.1 L350.2 300.2 L353.5 305.2 L351.8 311.9 L348.5 316.9 L339.3 321.9 L334.3 316.9 L338.4 311.9 L341.8 308.5 L338.4 301 L335.1 298.5 L330.9 295.1Z" fill="#8C5FAC"/>
<path d="M351.8 291.8 L371 291.4 L371.9 308.5 L369.4 316 L353.5 316 L353.5 308.5 L358.5 303.5 L354.3 300.2Z" fill="#D6E6FB"/>
<path d="M351.8 293.5 L363.5 293.5 L361.9 298.5 L356.8 301.8 L353.5 299.3Z" fill="#A8C2DD"/>
<path d="M319.2 300.2 L330.9 295.1 L335.1 298.5 L338.4 303.5 L333.4 306.8 L327.6 310.2 L320.1 311.9Z" fill="#D6E6FB"/>
<path d="M334.3 316.9 L341 310.2 L347.6 311.9 L348.5 316.9 L339.3 317.7Z" fill="#D6E6FB"/>
<path d="M319.2 311.9 L327.6 310.2 L338.4 311.9 L334.3 316.9 L339.3 321.9 L346.8 321 L353.5 322.7 L358.5 325.2 L361.9 333.6 L371.9 347.8 L358.5 348.6 L356.8 356 L345.1 356 L341.8 341.9 L336.8 333.6 L316.7 332.7 L315 319.4Z" fill="#4D004B"/>
<path d="M328.4 333.6 L334.3 333.6 L336.8 347 L331.8 344.5 L328.4 338.6Z" fill="#4D004B"/>
<path d="M338.4 301 L343.5 296.8 L348.5 307.7 L345.1 310.2 L340.1 306.8Z" fill="#4D004B"/>
<path d="M358.5 338.6 L366 338.6 L371.9 347.8 L358.5 348.6Z" fill="#8C5FAC"/>
<path d="M376.9 290.1 L397.8 287.6 L395.3 300.2 L398.6 307.7 L391.9 315.2 L383.6 308.5 L378.6 305.2 L377.7 295.1Z" fill="#8C5FAC"/>
<path d="M378.6 305.2 L383.6 308.5 L391.1 315.2 L396.1 328.6 L394.5 336.9 L400.3 345.3 L390.3 344.5 L379.4 334.4 L373.6 337.8 L366.9 326.9 L371 316.9 L375.2 310.2Z" fill="#4D004B"/>
<path d="M373.6 337.8 L379.4 334.4 L390.3 344.5 L400.3 345.3 L402.8 353.6 L408.7 356 L380.2 356Z" fill="#8C5FAC"/>
<path d="M273.2 165.8 L296.5 160 L323.2 160 L316.5 174.9 L307.3 189.1 L286.5 179.9 L278.2 174.9Z" fill="#8C5FAC"/>
<path d="M274 166.6 L279.9 163.3 L283.2 168.3 L289.9 163.3 L294.8 161.6 L298.2 166.6 L303.2 168.3 L308.2 171.6 L313.2 175.8 L308.2 183.3 L303.2 178.3 L299.8 174.9 L294.8 179.1 L289.9 175.8 L288.2 181.6 L283.2 178.3 L278.2 174.9Z" fill="#4D004B"/>
<path d="M220 796.7 L280 796.7 L280 876.6 L220 876.6Z" fill="#D6E6FB"/>
<path d="M356.6 586.6 L369.1 586.6 L369.1 626.5 L356.6 626.5Z" fill="#D6E6FB"/>
</g>
<path d="M232.9 163 L242.2 226.9 M115.6 231.1 L242.2 226.9 L304.5 220.4 M272.8 165.5 L275.8 173.7 L282.1 181.2 L289.6 184.9 L305.8 189.9 L314.5 175 L323.3 159.5 M305.8 189.9 L304.5 199.9 L305.8 220.4 M305.8 191.2 L308.6 192.6 L311.2 194.1 L313.4 196.3 L316.2 197.7 L318.3 199.9 L320 202.1 L320.3 204.8 L320.4 207.7 L322 209.9 L324.2 212.2 L326.7 214 L329.8 215.1 L332 217.4 L333.8 219.9 L336.1 222.2 L338.1 224.5 L339.5 227.4 L341.4 229.6 L342.5 232.1 L342.6 235.2 L344.5 237.3 L346.6 239.9 L349.1 241.9 L352 243.6 L354.1 246.1 L357.3 247.3 L359.4 249.8 L359.7 253.6 L359.4 257.3 M242.2 226.9 L252.1 287.7 M304.5 220.4 L318.3 276.8 M117.4 292.2 L252.1 287.7 L318.3 276.8 L347 272.8 L370.7 269.3 M180.3 292.2 L194.2 395.8 M252.1 287.7 L262.1 345.9 L268.4 394.1 M120.6 398.3 L268.4 394.1 L327 391.6 M262.1 345.9 L264.6 344.7 L267.1 343.8 L269.6 342.6 L272.9 343.6 L276.3 343.1 L279.6 343.4 L282.1 344.3 L284.5 345.4 L287.3 345.6 L289.6 347.1 L292.7 346.2 L295.9 345.5 L299.1 344.8 L302 343.4 L304.3 342 L306.9 341.6 L309.3 340.5 L312.2 341 L314.5 339.7 L316.1 337.4 L316.3 334.3 L318.3 332.2 M318.3 332.2 L317.6 329.1 L317.3 325.9 L316.7 322.8 L315.8 319.7 L316.1 317 L316.8 314.4 L318.4 312.1 L319.5 309.7 L316.7 307.9 L314.9 305.1 L312 303.5 M302 281.8 L308.3 294.7 L312 306 M312 306 L337 286.8 L352 289.7 L371.9 289.2 M318.3 332.2 L321.3 332.9 L324.2 331.1 L327.3 332.3 L330.2 331.2 L333.2 331.7 L333 334.5 L335.3 336.7 L334.4 339.7 L335.7 342.2 L337.8 344 L339.9 345.7 L342 347.4 L345 347.7 L347 349.6 L345.7 353.4 L348.4 355.1 L350.5 357.5 L353.2 359.1 L354.4 356.5 L355.9 354.1 L357.4 351.7 L359.4 349.6 L362.4 349.6 L365.2 349 L368 348.2 L370.7 347.1 M347 272.8 L349.5 289.7 M371.9 288.5 L396.9 286 M327 391.6 L327.4 389 L329.1 386.8 L329.5 384.2 L330.2 381.7 L331.7 379.4 L332.6 377 L333.5 374.5 L334.5 372.1 L337 371 L339.3 369.7 L341.8 368.7 L344.6 368.4 L347 367.1 L349.3 365.6 L352.1 364.9 L354.7 363.8 L356.9 362.1 L359.2 363.6 L361.6 364.5 L364.4 364.6 L366.1 366.9 L366.9 369.6 M276.6 394.6 L277.6 449.5 M287.1 422 L304.5 395.8 L327 391.6 M287.1 422 L297.1 422 L298.3 449.5 M121.1 454.9 L268.4 452 L329.5 448.2 M355.7 257.3 L369.4 256.1 L370.7 268.5 L356.4 269.8 L355.7 257.3 M269.1 451.2 L270.3 499.4 M120.6 502.9 L207.2 500.6 L284.6 499.4 L309.5 498.6 M284.6 499.4 L287.1 559.8 L293.3 582.7 M118.6 544.8 L223.4 531.1 L228.4 562.3 L293.3 582.7 L327 584.2 M166 539.8 L168.7 541.1 L170.8 543 L172.5 545.6 L174.8 547.3 L176.2 550.5 L177.1 553.8 L177.3 557.3 L179.2 559.8 L181 562.3 L179.4 564.4 L177.9 566.6 L175.9 568.4 L173.6 569.9 L172.3 572.3 L171.3 575.1 L169.6 577.6 L168.3 580.2 L166 582.2 L166.2 585.4 L166.1 588.5 L164.2 591.5 L164.8 594.7 L164.7 597.7 L163.1 600.4 L164.2 603.5 L162.4 606.3 L162.7 609.3 L162.3 612.2 L162.9 614.8 L163.9 617.3 L165.5 619.6 L166 622.2 L165.7 625.3 L164.2 628.1 L164.4 631.3 L163.9 634.3 L162.3 637.1 M228.4 562.3 L228.7 565.1 L229.4 567.7 L228.9 570.6 L230.3 573.2 L230.3 576 L231 578.7 L231.2 581.5 L230.6 584.3 L232.5 586.9 L232.2 589.7 L233 592.5 L234.1 595.3 L234.6 598.2 L234.2 601.3 L236.1 603.9 L236.3 606.9 L237.2 609.7 L236.9 613.1 L235.9 616.3 L235.9 619.7 L237.2 622.2 L238.4 624.7 M162.3 637.1 L165.2 637.4 L168.2 637.2 L171.1 636.9 L173.9 638.2 L176.9 637.7 L179.8 638.4 L181 635.4 L182.7 632.7 L184.7 630.1 L186 627.2 L188.3 624.8 L189 621.5 L191.4 619.2 L192.2 615.9 L194.4 617.7 L197.4 617.4 L200 618 L202.2 619.7 L205.1 621.3 L206.8 624.3 L209.7 625.9 L212.7 626.1 L215.7 626.7 L218.7 626.7 L221.7 626.2 L224.7 625.9 L227.4 625.7 L230.1 624.6 L232.8 624.3 L235.7 625.5 L238.4 624.7 M238.4 624.7 L219.7 692 M114.4 659.6 L116 662.5 L116.1 665.8 L118.3 667.3 L120.1 669.3 L121.2 671.9 L123.6 673.3 L125.8 671.1 L128.3 669.2 L129.7 666.3 L132.4 664.6 L134.9 663.4 L137.6 662.7 L139.8 660.9 L142.3 659.6 L144.4 661.6 L147 662.7 L149.9 663.1 L152.7 663.8 L154.8 665.8 L155.7 663.2 L155 660.3 L155.2 657.6 L156.9 655.1 L157.5 652.4 L157.3 649.6 L158.9 647.3 L160.1 644.9 L159.8 641.9 L160.6 639.3 L162.3 637.1 M154.8 665.8 L156.8 714.5 M327 584.2 L328.2 614.7 L324.5 624.7 L302 639.6 M388.5 373.6 L406 356.1 M425.9 409.8 L444.6 407.8 M419.7 533.3 L462.1 570.8 M414.7 568.3 L434.7 598.2 M475.8 544.6 L526.5 531.6" fill="none" stroke="#000" stroke-width="1.3" stroke-linejoin="round"/>
<path d="M244 836 L248 830 L250.6 829.3 L251.6 835.3 L254 838 L253.3 842.6 L250 843.3 L246.6 842Z M370.7 285.1 L373.1 286.8 L373.9 291.8 L375.9 293.5 L378.2 295.8 L377.4 300.2 L376.4 305.2 L375.4 310.2 L372.9 314.2 L371.5 308.5 L372.4 303.5 L372.7 298.5 L371.9 293.5 L371 289.3Z M413.4 365.1 L417.6 364.2 L419.3 368.4 L416.8 372.6 L413.4 373.4 L410.9 376.8 L410.1 373.4 L411.8 368.4Z M296.6 636.6 L297.6 638.5 L296.8 640.8 L298.8 642.4 L298.2 644.7 L299.1 646.6 L300.1 648.7 L300.2 651 L300 653.3 L299.7 655.7 L301.6 657.6 L301.6 659.9 L300.9 662 L300.9 664.1 L300.5 666.2 L300 668.3 L299.2 670.5 L298.9 672.9 L297.5 674.9 L295.5 675.7 L294.6 678 L292.8 679 L290.8 679.9 L289.1 677.7 L289.1 674.9 L288.9 672.8 L289.4 670.7 L290.5 668.8 L290 666.6 L290.1 664.6 L290 662.5 L290.5 660.5 L292.2 658.7 L291.6 656.6 L291.5 654.3 L293.1 652.5 L293.3 650.3 L294.1 648.3 L294.9 646 L294.8 643.6 L295.9 641.4 L296.1 638.9Z M329.6 569.2 L331.6 571.7 L330 578.3 L330 593.3 L329.3 610 L327.6 622.5 L323.3 627.5 L326.6 621.6 L328.1 610 L328.6 593.3 L328 578.3Z M106.6 724.1 L108.5 723.1 L110.4 722.1 L112.7 722.3 L114.4 720.7 L116.6 720.7 L118.8 720.3 L121 719.6 L123.2 718.7 L125.5 719 L127.6 717.8 L130 718.2 L131.7 719.4 L133.3 720.7 L131.3 722 L129 722.5 L126.7 722.5 L124.3 722.4 L122.4 724.2 L120 724.1 L117.8 725.1 L115.3 724.9 L112.8 724.8 L110.6 726 L108.3 726.6Z M143.3 720.7 L145.2 719.6 L147.1 718.5 L149.4 718.5 L151 716.7 L153.3 716.6 L155 714.8 L156.4 712.7 L157.7 710.4 L159.9 709.1 L162.1 708.3 L164.1 706.7 L166.6 706.6 L167.6 709.1 L168.3 711.6 L167.2 714 L165.5 715.9 L163.3 717.4 L161.1 718.4 L158.6 718.5 L156.6 719.9 L154.9 721.2 L152.9 721.8 L150.7 721.8 L148.5 721.9 L146.8 723.3 L144.9 724.1Z M176.6 704.9 L178.1 703.2 L179.5 701.5 L181.8 700.8 L183.3 699.1 L185.4 698.5 L187.4 699.6 L189.5 699.5 L191.6 699.9 L193.6 698.9 L195.8 699.5 L197.7 698.5 L199.9 699.1 L201.5 697.6 L202.7 695.6 L204.4 694.2 L206.6 693.3 L208.6 692.7 L210.9 693 L212.7 691.4 L214.9 691.6 L216.9 692.9 L218.2 694.9 L216 695.7 L213.7 696.3 L211.9 697.9 L209.9 699.1 L208 700.1 L205.6 699.9 L204.2 702.3 L201.7 701.8 L199.9 703.2 L198.1 704.3 L196.2 705.2 L194.3 705.9 L192.2 706.3 L190 706.2 L188.2 707.4 L186.4 708.6 L184.2 708.6 L182.2 709.1 L180.4 710.3 L178.3 710.7 L175.8 708.2Z M223.2 689.9 L224.6 688.3 L227 688.1 L227.8 685.6 L229.9 684.9 L231.7 687.3 L234.1 689.1 L233.5 691.6 L231.6 693.3 L229.4 694 L227 692.9 L224.9 694.1 L223.6 692.2Z M475.2 485.3 L480.2 487.5 L484.6 496.3 L483.2 500 L478.6 495.3Z M462.9 473.6 L465.7 471.3 L468.6 473.6 L468.2 478.3 L465.2 480 L462.9 477.5Z M273.2 668.3 L274.5 670.3 L275.9 672.3 L277.5 674.2 L278.2 676.6 L280 678 L282.7 677.4 L284.4 679.1 L286.5 679.9 L284.3 681.1 L283.2 683.3 L281.2 684.3 L279 683.6 L277 683.7 L274.9 684.1 L273.3 681.9 L273 679.2 L272.4 676.6 L273 674.6 L272.7 672.4 L273.4 670.4Z" fill="#fff" stroke="#000" stroke-width="1"/>
<path d="M406.7 360.9 L407.2 367.6 L408 375.1 L411.8 381.8 L417.6 385.1 L421.8 389.3 L425.1 393.5 L427.6 397.7 M407.6 361.7 L409.3 367.6 L410.9 373.4 L413.4 373.4 M354.3 453.5 L346.8 455.6 L341.8 458.5 L336.8 460.6 L333.4 464.4 L329.3 469.4 L326.7 476.1 M333 446.8 L330.9 453.5 L327.6 460.2 L324.2 462.3 M372.7 313.5 L370.2 316.9 L367.7 319.4 L363.5 323.6 M371 274.2 L371.9 287.6" fill="none" stroke="#000" stroke-width="1.6" stroke-linejoin="round"/>
<path d="M114.4 166.5 L370.4 158.5 L370.2 259.8 L371 259.6 L396.5 256.3 L397 270.9 L399.5 285.1 L397.4 289.3 L395.3 300.2 L398.6 307.7 L391.9 315.2 L396.1 328.6 L394.5 336.9 L402.8 353.6 L406.7 355.9 L444.4 375.5 L466.5 411 L464.4 415.2 L458.6 420.2 L455.2 419 L457.7 415.2 L455.2 409.4 L451 405.2 L446.9 403.5 L444.4 398.5 L442.7 396 L443.5 401.9 L446 407.7 L450.2 413.6 L454 419.8 L456.9 427.8 L460.2 436.1 L459.9 438.3 L459.1 444.2 L454.1 446.7 L450.7 453.3 L447.4 463.3 L444.1 465.8 L440.7 460.8 L439.1 453.3 L435.8 445 L433.3 439.2 L432.4 433.3 L432.2 433.3 L428.1 433.8 L426.8 437.8 L427.8 446 L428.3 446.7 L424.1 453.3 L420.8 460.8 L417.4 455 L416.6 445 L416.8 445 L417.6 435.3 L420.1 433.4 L423.5 434.5 L424.3 427.8 L425.6 411 L428.1 409.4 L430.2 406.9 L429.3 398.5 L430.2 393.5 L433.5 390.2 L432.7 381.8 L431.8 370.9 L430.2 369.3 L428.9 369.3 L428.1 377.6 L427.6 386.8 L427.2 397.7 L426 401.9 L424.3 405.2 L423.5 400.2 L421 403.5 L421 411 L418.9 414.4 L416.8 411 L415.9 403.5 L411.8 399.8 L405.1 398.5 L398 397.7 L395 393.5 L393.8 387.6 L392.5 382.6 L390 380.1 L388.4 373.4 L386.6 372.4 L384.1 378.2 L382.5 371.6 L378.3 363.3 L377 354.9 L379.4 356 L375.2 346.1 L371 340.3 L366.9 333.6 L365.2 326.1 L361.9 324.4 L360.2 326.9 L361.9 333.6 L365.2 337.8 L370.2 344.5 L373.6 350.3 L375.2 356 L366.6 351.6 L364.6 356.6 L367.5 366.6 L370 374.9 L372 383.2 L368.3 388.2 L365.8 393.2 L370 396.6 L375 402.4 L380 404.9 L386.5 405 L380.2 407.5 L376.9 408.8 L379.8 410.9 L381.1 416.7 L380.2 421.7 L382.3 425.9 L379.4 428.8 L376.5 435.9 L375.6 442.6 L372.7 447.2 L369.4 445.6 L366.5 441.8 L365.2 436.8 L364.4 432.2 L362.7 425.1 L361.4 427.6 L358.5 432.2 L354.3 430.9 L351.8 431.8 L348.5 427.6 L346.8 432.2 L341.8 430.9 L335.1 430.5 L330.5 429.3 L328.4 425.1 L323.4 421.3 L327.6 427.6 L329.3 433.4 L330.9 439.3 L332.6 441.8 L330.5 445.1 L333.4 446.8 L339.3 445.1 L343.5 443 L348.5 447.6 L354.3 450.2 L354.7 458.5 L355.2 466.9 L356 475.2 L357.7 480.2 L353.5 484.4 L356.8 488.6 L357.7 491.1 L351.8 493.6 L350.2 497 L357.7 499.5 L357.7 506 L355.8 513.3 L341.6 514.6 L335.8 518.3 L334.1 511.6 L330 508.3 L327.5 516.6 L329.1 518.6 L330.7 520.6 L330.8 523.3 L332.1 525.8 L335.2 526.9 L335.8 529.9 L336.7 532 L338.2 533.7 L340.1 535.3 L339.8 537.9 L340.8 539.9 L343.2 541.8 L343.1 544.8 L345.2 546.9 L345 549.9 L347.1 551.8 L346.9 554.5 L346.5 557.3 L349.4 558.9 L349.1 561.6 L349.6 573.2 L346.6 580.7 L347.5 589.9 L348.3 603.2 L342.5 607.4 L344.1 616.6 L339.9 626.6 L335.8 632.5 L331.6 631.6 L326.6 638.3 L327.5 649.9 L325.8 659.9 L320.8 666.6 L316.6 676.6 L311.6 686.6 L309.1 693.3 L310 697.4 L306.6 698.2 L300 690.8 L290 684.9 L271.5 687.4 L254.9 689.1 L234.9 694.1 L216.6 699.1 L194.9 707.4 L178.3 714.1 L166.6 720.7 L149.9 722.4 L141.6 724.9 L123.3 724.1 L106.6 727.4 L91.6 733.2 L76.7 741.6 L75.8 744.1 L71.7 738.2 L60 741.6 L62.5 738.2 L70 736.6 L75 737.4 L77.5 731.6 L79.1 729.9 L80.9 728.4 L82.5 726.6 L84.4 724.8 L84.6 722.1 L85.8 719.9 L87.7 718.8 L89.8 717.9 L91.6 716.6 L92.1 714.1 L93.9 712.1 L95 709.9 L93.8 707.5 L92.7 705.1 L90.8 703.2 L89.7 700.8 L90 698.3 L89.3 695.8 L90 693.3 L91.3 691 L91.7 688.4 L90.9 685.6 L92.5 683.3 L92.9 680.5 L92.2 678.1 L91 675.7 L90 673.3 L89.4 670.7 L87.6 668.5 L86.4 666.1 L86.6 663.3 L87 660.8 L86.2 658.2 L87.5 655.8 L89.3 654.2 L91.4 653.3 L93.3 651.9 L95.8 651.8 L97.9 650.8 L100 649.9 L111.6 651.3 L114.1 650.8 L118.6 544.8 L120.6 502.4 L121.1 455 L120.6 398.3 L117.4 292.2 L116.1 231.1Z M469.1 455.8 L470.7 462.5 L472.4 470 L471.6 478.3 L466.6 483 L459.9 480 L457.4 485 L455.7 496.6 L456.6 508.3 L460.7 520.8 L459.9 533.3 L462.4 544.9 L464.9 558.3 L461.6 569.9 L458.2 579.9 L454.9 588.2 L459.9 594.1 L457.4 601.6 L454.1 605.7 L452.4 598.2 L448.2 592.4 L441.6 594.1 L437.4 599.9 L433.3 594.1 L428.3 592.4 L422.4 596.6 L423.3 601.6 L419.9 604.9 L420.8 610.7 L416.6 613.2 L414.9 621.6 L410.8 617.4 L406.6 619.9 L398.3 624 L396.6 619.9 L389.9 621.6 L386.6 624 L383.3 614.9 L388.3 610.7 L394.9 604.9 L397.4 599.1 L399.9 604.1 L405.9 603.9 L406.1 593.2 L405.9 579.9 L405.9 568.6 L401.9 566.3 L404.9 563.3 L410.8 564.9 L413.3 553.3 L414.9 544.9 L419.9 533.3 L428.3 521.6 L429.9 513.3 L428.3 508.3 L431.6 503.3 L436.6 493.3 L437.4 481.6 L441.6 477.5 L446.6 470.8 L453.2 468.6 L460.7 467.5 L466.6 461.6Z M376.6 522.8 L381.6 525.8 L383.3 536.6 L382.5 548.3 L380 561.6 L382.5 571.6 L384.1 578.2 L380 583.2 L383.3 596.6 L386.6 599.1 L381.6 601.6 L374.1 603.2 L371.6 593.2 L369.1 581.6 L373.3 576.6 L366.6 573.2 L364.1 564.9 L365.8 553.3 L368.3 543.3 L369.1 533.3 L371.6 526.6Z M359.1 589.1 L366.6 589.9 L368.3 596.6 L366.6 606.6 L364.1 618.2 L359.1 624.9 L358.3 613.2 L360.8 603.2 L360.8 594.9Z M392.4 446.7 L395.8 453.3 L398.3 459.1 L399.9 465.8 L395.8 466.6 L398.3 471.6 L406.6 475.8 L414.9 478.3 L418.3 486.6 L418.6 496.6 L414.9 506.6 L409.9 514.9 L404.9 517.9 L399.9 513.3 L398.3 503.3 L399.9 493.3 L404.1 485 L403.3 478.3 L398.3 475 L392.4 475 L389.1 470 L388.3 461.6 L390.8 457.5 L389.9 451.7Z M484.9 439.7 L497.4 442.5 L523.5 450.8 L523.2 471.6 L518.2 483.3 L519.9 496.6 L524 508.3 L526.5 529.9 L529 546.6 L530.7 563.3 L531.5 584.9 L523.2 588.2 L518.2 596.6 L511.5 599.9 L503.2 606.6 L501.5 613.2 L491.6 616.6 L485.7 620.7 L484.1 611.6 L489.1 606.6 L487.4 596.6 L481.6 583.2 L479.1 571.6 L479.9 559.9 L476.6 546.6 L473.2 544.9 L473.2 538.3 L476.6 533.3 L478.2 523.3 L479.9 516.6 L474.9 513.3 L476.6 503.3 L480.7 498.3 L479.9 493.3 L474.9 486.6 L473.2 480 L474.9 470 L478.2 456.7Z M249.6 802.3 L252.6 806.7 L258.6 808.7 L262.6 812.7 L264.6 818 L262.6 826 L259.3 831.3 L258 838 L258.6 845.3 L264 851.3 L266 856 L270.6 858 L269.3 865.3 L264 870 L253.3 872.6 L241.3 873.3 L236 873.6 L229.3 869.3 L227.3 862 L229.3 854 L232 843.3 L238.6 838 L241.3 836 L240.3 830.6 L246.6 827.3 L249.3 818 L249.6 810Z" fill="none" stroke="#000" stroke-width="1.4" stroke-linejoin="round"/>
</g>
<g transform="translate(543.4 5)">
<path d="M298.3 175.8L404.9 164.2" stroke="#9a9aa0" stroke-width="1.8" fill="none"/>
<path d="M350.8 318L446.9 307.5" stroke="#9a9aa0" stroke-width="1.8" fill="none"/>
<text x="405.8" y="169.2" class="lb">Woonsocket</text>
<text x="449.29999999999995" y="310.0" class="lb">Providence</text>
</g>
<g transform="translate(1062.7 7)">
<clipPath id="clip3"><path d="M114.4 166.5 L370.4 158.5 L370.2 259.8 L371 259.6 L396.5 256.3 L397 270.9 L399.5 285.1 L397.4 289.3 L395.3 300.2 L398.6 307.7 L391.9 315.2 L396.1 328.6 L394.5 336.9 L402.8 353.6 L406.7 355.9 L444.4 375.5 L466.5 411 L464.4 415.2 L458.6 420.2 L455.2 419 L457.7 415.2 L455.2 409.4 L451 405.2 L446.9 403.5 L444.4 398.5 L442.7 396 L443.5 401.9 L446 407.7 L450.2 413.6 L454 419.8 L456.9 427.8 L460.2 436.1 L459.9 438.3 L459.1 444.2 L454.1 446.7 L450.7 453.3 L447.4 463.3 L444.1 465.8 L440.7 460.8 L439.1 453.3 L435.8 445 L433.3 439.2 L432.4 433.3 L432.2 433.3 L428.1 433.8 L426.8 437.8 L427.8 446 L428.3 446.7 L424.1 453.3 L420.8 460.8 L417.4 455 L416.6 445 L416.8 445 L417.6 435.3 L420.1 433.4 L423.5 434.5 L424.3 427.8 L425.6 411 L428.1 409.4 L430.2 406.9 L429.3 398.5 L430.2 393.5 L433.5 390.2 L432.7 381.8 L431.8 370.9 L430.2 369.3 L428.9 369.3 L428.1 377.6 L427.6 386.8 L427.2 397.7 L426 401.9 L424.3 405.2 L423.5 400.2 L421 403.5 L421 411 L418.9 414.4 L416.8 411 L415.9 403.5 L411.8 399.8 L405.1 398.5 L398 397.7 L395 393.5 L393.8 387.6 L392.5 382.6 L390 380.1 L388.4 373.4 L386.6 372.4 L384.1 378.2 L382.5 371.6 L378.3 363.3 L377 354.9 L379.4 356 L375.2 346.1 L371 340.3 L366.9 333.6 L365.2 326.1 L361.9 324.4 L360.2 326.9 L361.9 333.6 L365.2 337.8 L370.2 344.5 L373.6 350.3 L375.2 356 L366.6 351.6 L364.6 356.6 L367.5 366.6 L370 374.9 L372 383.2 L368.3 388.2 L365.8 393.2 L370 396.6 L375 402.4 L380 404.9 L386.5 405 L380.2 407.5 L376.9 408.8 L379.8 410.9 L381.1 416.7 L380.2 421.7 L382.3 425.9 L379.4 428.8 L376.5 435.9 L375.6 442.6 L372.7 447.2 L369.4 445.6 L366.5 441.8 L365.2 436.8 L364.4 432.2 L362.7 425.1 L361.4 427.6 L358.5 432.2 L354.3 430.9 L351.8 431.8 L348.5 427.6 L346.8 432.2 L341.8 430.9 L335.1 430.5 L330.5 429.3 L328.4 425.1 L323.4 421.3 L327.6 427.6 L329.3 433.4 L330.9 439.3 L332.6 441.8 L330.5 445.1 L333.4 446.8 L339.3 445.1 L343.5 443 L348.5 447.6 L354.3 450.2 L354.7 458.5 L355.2 466.9 L356 475.2 L357.7 480.2 L353.5 484.4 L356.8 488.6 L357.7 491.1 L351.8 493.6 L350.2 497 L357.7 499.5 L357.7 506 L355.8 513.3 L341.6 514.6 L335.8 518.3 L334.1 511.6 L330 508.3 L327.5 516.6 L329.1 518.6 L330.7 520.6 L330.8 523.3 L332.1 525.8 L335.2 526.9 L335.8 529.9 L336.7 532 L338.2 533.7 L340.1 535.3 L339.8 537.9 L340.8 539.9 L343.2 541.8 L343.1 544.8 L345.2 546.9 L345 549.9 L347.1 551.8 L346.9 554.5 L346.5 557.3 L349.4 558.9 L349.1 561.6 L349.6 573.2 L346.6 580.7 L347.5 589.9 L348.3 603.2 L342.5 607.4 L344.1 616.6 L339.9 626.6 L335.8 632.5 L331.6 631.6 L326.6 638.3 L327.5 649.9 L325.8 659.9 L320.8 666.6 L316.6 676.6 L311.6 686.6 L309.1 693.3 L310 697.4 L306.6 698.2 L300 690.8 L290 684.9 L271.5 687.4 L254.9 689.1 L234.9 694.1 L216.6 699.1 L194.9 707.4 L178.3 714.1 L166.6 720.7 L149.9 722.4 L141.6 724.9 L123.3 724.1 L106.6 727.4 L91.6 733.2 L76.7 741.6 L75.8 744.1 L71.7 738.2 L60 741.6 L62.5 738.2 L70 736.6 L75 737.4 L77.5 731.6 L79.1 729.9 L80.9 728.4 L82.5 726.6 L84.4 724.8 L84.6 722.1 L85.8 719.9 L87.7 718.8 L89.8 717.9 L91.6 716.6 L92.1 714.1 L93.9 712.1 L95 709.9 L93.8 707.5 L92.7 705.1 L90.8 703.2 L89.7 700.8 L90 698.3 L89.3 695.8 L90 693.3 L91.3 691 L91.7 688.4 L90.9 685.6 L92.5 683.3 L92.9 680.5 L92.2 678.1 L91 675.7 L90 673.3 L89.4 670.7 L87.6 668.5 L86.4 666.1 L86.6 663.3 L87 660.8 L86.2 658.2 L87.5 655.8 L89.3 654.2 L91.4 653.3 L93.3 651.9 L95.8 651.8 L97.9 650.8 L100 649.9 L111.6 651.3 L114.1 650.8 L118.6 544.8 L120.6 502.4 L121.1 455 L120.6 398.3 L117.4 292.2 L116.1 231.1Z M469.1 455.8 L470.7 462.5 L472.4 470 L471.6 478.3 L466.6 483 L459.9 480 L457.4 485 L455.7 496.6 L456.6 508.3 L460.7 520.8 L459.9 533.3 L462.4 544.9 L464.9 558.3 L461.6 569.9 L458.2 579.9 L454.9 588.2 L459.9 594.1 L457.4 601.6 L454.1 605.7 L452.4 598.2 L448.2 592.4 L441.6 594.1 L437.4 599.9 L433.3 594.1 L428.3 592.4 L422.4 596.6 L423.3 601.6 L419.9 604.9 L420.8 610.7 L416.6 613.2 L414.9 621.6 L410.8 617.4 L406.6 619.9 L398.3 624 L396.6 619.9 L389.9 621.6 L386.6 624 L383.3 614.9 L388.3 610.7 L394.9 604.9 L397.4 599.1 L399.9 604.1 L405.9 603.9 L406.1 593.2 L405.9 579.9 L405.9 568.6 L401.9 566.3 L404.9 563.3 L410.8 564.9 L413.3 553.3 L414.9 544.9 L419.9 533.3 L428.3 521.6 L429.9 513.3 L428.3 508.3 L431.6 503.3 L436.6 493.3 L437.4 481.6 L441.6 477.5 L446.6 470.8 L453.2 468.6 L460.7 467.5 L466.6 461.6Z M376.6 522.8 L381.6 525.8 L383.3 536.6 L382.5 548.3 L380 561.6 L382.5 571.6 L384.1 578.2 L380 583.2 L383.3 596.6 L386.6 599.1 L381.6 601.6 L374.1 603.2 L371.6 593.2 L369.1 581.6 L373.3 576.6 L366.6 573.2 L364.1 564.9 L365.8 553.3 L368.3 543.3 L369.1 533.3 L371.6 526.6Z M359.1 589.1 L366.6 589.9 L368.3 596.6 L366.6 606.6 L364.1 618.2 L359.1 624.9 L358.3 613.2 L360.8 603.2 L360.8 594.9Z M392.4 446.7 L395.8 453.3 L398.3 459.1 L399.9 465.8 L395.8 466.6 L398.3 471.6 L406.6 475.8 L414.9 478.3 L418.3 486.6 L418.6 496.6 L414.9 506.6 L409.9 514.9 L404.9 517.9 L399.9 513.3 L398.3 503.3 L399.9 493.3 L404.1 485 L403.3 478.3 L398.3 475 L392.4 475 L389.1 470 L388.3 461.6 L390.8 457.5 L389.9 451.7Z M484.9 439.7 L497.4 442.5 L523.5 450.8 L523.2 471.6 L518.2 483.3 L519.9 496.6 L524 508.3 L526.5 529.9 L529 546.6 L530.7 563.3 L531.5 584.9 L523.2 588.2 L518.2 596.6 L511.5 599.9 L503.2 606.6 L501.5 613.2 L491.6 616.6 L485.7 620.7 L484.1 611.6 L489.1 606.6 L487.4 596.6 L481.6 583.2 L479.1 571.6 L479.9 559.9 L476.6 546.6 L473.2 544.9 L473.2 538.3 L476.6 533.3 L478.2 523.3 L479.9 516.6 L474.9 513.3 L476.6 503.3 L480.7 498.3 L479.9 493.3 L474.9 486.6 L473.2 480 L474.9 470 L478.2 456.7Z M249.6 802.3 L252.6 806.7 L258.6 808.7 L262.6 812.7 L264.6 818 L262.6 826 L259.3 831.3 L258 838 L258.6 845.3 L264 851.3 L266 856 L270.6 858 L269.3 865.3 L264 870 L253.3 872.6 L241.3 873.3 L236 873.6 L229.3 869.3 L227.3 862 L229.3 854 L232 843.3 L238.6 838 L241.3 836 L240.3 830.6 L246.6 827.3 L249.3 818 L249.6 810Z"/></clipPath>
<path d="M114.4 166.5 L370.4 158.5 L370.2 259.8 L371 259.6 L396.5 256.3 L397 270.9 L399.5 285.1 L397.4 289.3 L395.3 300.2 L398.6 307.7 L391.9 315.2 L396.1 328.6 L394.5 336.9 L402.8 353.6 L406.7 355.9 L444.4 375.5 L466.5 411 L464.4 415.2 L458.6 420.2 L455.2 419 L457.7 415.2 L455.2 409.4 L451 405.2 L446.9 403.5 L444.4 398.5 L442.7 396 L443.5 401.9 L446 407.7 L450.2 413.6 L454 419.8 L456.9 427.8 L460.2 436.1 L459.9 438.3 L459.1 444.2 L454.1 446.7 L450.7 453.3 L447.4 463.3 L444.1 465.8 L440.7 460.8 L439.1 453.3 L435.8 445 L433.3 439.2 L432.4 433.3 L432.2 433.3 L428.1 433.8 L426.8 437.8 L427.8 446 L428.3 446.7 L424.1 453.3 L420.8 460.8 L417.4 455 L416.6 445 L416.8 445 L417.6 435.3 L420.1 433.4 L423.5 434.5 L424.3 427.8 L425.6 411 L428.1 409.4 L430.2 406.9 L429.3 398.5 L430.2 393.5 L433.5 390.2 L432.7 381.8 L431.8 370.9 L430.2 369.3 L428.9 369.3 L428.1 377.6 L427.6 386.8 L427.2 397.7 L426 401.9 L424.3 405.2 L423.5 400.2 L421 403.5 L421 411 L418.9 414.4 L416.8 411 L415.9 403.5 L411.8 399.8 L405.1 398.5 L398 397.7 L395 393.5 L393.8 387.6 L392.5 382.6 L390 380.1 L388.4 373.4 L386.6 372.4 L384.1 378.2 L382.5 371.6 L378.3 363.3 L377 354.9 L379.4 356 L375.2 346.1 L371 340.3 L366.9 333.6 L365.2 326.1 L361.9 324.4 L360.2 326.9 L361.9 333.6 L365.2 337.8 L370.2 344.5 L373.6 350.3 L375.2 356 L366.6 351.6 L364.6 356.6 L367.5 366.6 L370 374.9 L372 383.2 L368.3 388.2 L365.8 393.2 L370 396.6 L375 402.4 L380 404.9 L386.5 405 L380.2 407.5 L376.9 408.8 L379.8 410.9 L381.1 416.7 L380.2 421.7 L382.3 425.9 L379.4 428.8 L376.5 435.9 L375.6 442.6 L372.7 447.2 L369.4 445.6 L366.5 441.8 L365.2 436.8 L364.4 432.2 L362.7 425.1 L361.4 427.6 L358.5 432.2 L354.3 430.9 L351.8 431.8 L348.5 427.6 L346.8 432.2 L341.8 430.9 L335.1 430.5 L330.5 429.3 L328.4 425.1 L323.4 421.3 L327.6 427.6 L329.3 433.4 L330.9 439.3 L332.6 441.8 L330.5 445.1 L333.4 446.8 L339.3 445.1 L343.5 443 L348.5 447.6 L354.3 450.2 L354.7 458.5 L355.2 466.9 L356 475.2 L357.7 480.2 L353.5 484.4 L356.8 488.6 L357.7 491.1 L351.8 493.6 L350.2 497 L357.7 499.5 L357.7 506 L355.8 513.3 L341.6 514.6 L335.8 518.3 L334.1 511.6 L330 508.3 L327.5 516.6 L329.1 518.6 L330.7 520.6 L330.8 523.3 L332.1 525.8 L335.2 526.9 L335.8 529.9 L336.7 532 L338.2 533.7 L340.1 535.3 L339.8 537.9 L340.8 539.9 L343.2 541.8 L343.1 544.8 L345.2 546.9 L345 549.9 L347.1 551.8 L346.9 554.5 L346.5 557.3 L349.4 558.9 L349.1 561.6 L349.6 573.2 L346.6 580.7 L347.5 589.9 L348.3 603.2 L342.5 607.4 L344.1 616.6 L339.9 626.6 L335.8 632.5 L331.6 631.6 L326.6 638.3 L327.5 649.9 L325.8 659.9 L320.8 666.6 L316.6 676.6 L311.6 686.6 L309.1 693.3 L310 697.4 L306.6 698.2 L300 690.8 L290 684.9 L271.5 687.4 L254.9 689.1 L234.9 694.1 L216.6 699.1 L194.9 707.4 L178.3 714.1 L166.6 720.7 L149.9 722.4 L141.6 724.9 L123.3 724.1 L106.6 727.4 L91.6 733.2 L76.7 741.6 L75.8 744.1 L71.7 738.2 L60 741.6 L62.5 738.2 L70 736.6 L75 737.4 L77.5 731.6 L79.1 729.9 L80.9 728.4 L82.5 726.6 L84.4 724.8 L84.6 722.1 L85.8 719.9 L87.7 718.8 L89.8 717.9 L91.6 716.6 L92.1 714.1 L93.9 712.1 L95 709.9 L93.8 707.5 L92.7 705.1 L90.8 703.2 L89.7 700.8 L90 698.3 L89.3 695.8 L90 693.3 L91.3 691 L91.7 688.4 L90.9 685.6 L92.5 683.3 L92.9 680.5 L92.2 678.1 L91 675.7 L90 673.3 L89.4 670.7 L87.6 668.5 L86.4 666.1 L86.6 663.3 L87 660.8 L86.2 658.2 L87.5 655.8 L89.3 654.2 L91.4 653.3 L93.3 651.9 L95.8 651.8 L97.9 650.8 L100 649.9 L111.6 651.3 L114.1 650.8 L118.6 544.8 L120.6 502.4 L121.1 455 L120.6 398.3 L117.4 292.2 L116.1 231.1Z M469.1 455.8 L470.7 462.5 L472.4 470 L471.6 478.3 L466.6 483 L459.9 480 L457.4 485 L455.7 496.6 L456.6 508.3 L460.7 520.8 L459.9 533.3 L462.4 544.9 L464.9 558.3 L461.6 569.9 L458.2 579.9 L454.9 588.2 L459.9 594.1 L457.4 601.6 L454.1 605.7 L452.4 598.2 L448.2 592.4 L441.6 594.1 L437.4 599.9 L433.3 594.1 L428.3 592.4 L422.4 596.6 L423.3 601.6 L419.9 604.9 L420.8 610.7 L416.6 613.2 L414.9 621.6 L410.8 617.4 L406.6 619.9 L398.3 624 L396.6 619.9 L389.9 621.6 L386.6 624 L383.3 614.9 L388.3 610.7 L394.9 604.9 L397.4 599.1 L399.9 604.1 L405.9 603.9 L406.1 593.2 L405.9 579.9 L405.9 568.6 L401.9 566.3 L404.9 563.3 L410.8 564.9 L413.3 553.3 L414.9 544.9 L419.9 533.3 L428.3 521.6 L429.9 513.3 L428.3 508.3 L431.6 503.3 L436.6 493.3 L437.4 481.6 L441.6 477.5 L446.6 470.8 L453.2 468.6 L460.7 467.5 L466.6 461.6Z M376.6 522.8 L381.6 525.8 L383.3 536.6 L382.5 548.3 L380 561.6 L382.5 571.6 L384.1 578.2 L380 583.2 L383.3 596.6 L386.6 599.1 L381.6 601.6 L374.1 603.2 L371.6 593.2 L369.1 581.6 L373.3 576.6 L366.6 573.2 L364.1 564.9 L365.8 553.3 L368.3 543.3 L369.1 533.3 L371.6 526.6Z M359.1 589.1 L366.6 589.9 L368.3 596.6 L366.6 606.6 L364.1 618.2 L359.1 624.9 L358.3 613.2 L360.8 603.2 L360.8 594.9Z M392.4 446.7 L395.8 453.3 L398.3 459.1 L399.9 465.8 L395.8 466.6 L398.3 471.6 L406.6 475.8 L414.9 478.3 L418.3 486.6 L418.6 496.6 L414.9 506.6 L409.9 514.9 L404.9 517.9 L399.9 513.3 L398.3 503.3 L399.9 493.3 L404.1 485 L403.3 478.3 L398.3 475 L392.4 475 L389.1 470 L388.3 461.6 L390.8 457.5 L389.9 451.7Z M484.9 439.7 L497.4 442.5 L523.5 450.8 L523.2 471.6 L518.2 483.3 L519.9 496.6 L524 508.3 L526.5 529.9 L529 546.6 L530.7 563.3 L531.5 584.9 L523.2 588.2 L518.2 596.6 L511.5 599.9 L503.2 606.6 L501.5 613.2 L491.6 616.6 L485.7 620.7 L484.1 611.6 L489.1 606.6 L487.4 596.6 L481.6 583.2 L479.1 571.6 L479.9 559.9 L476.6 546.6 L473.2 544.9 L473.2 538.3 L476.6 533.3 L478.2 523.3 L479.9 516.6 L474.9 513.3 L476.6 503.3 L480.7 498.3 L479.9 493.3 L474.9 486.6 L473.2 480 L474.9 470 L478.2 456.7Z M249.6 802.3 L252.6 806.7 L258.6 808.7 L262.6 812.7 L264.6 818 L262.6 826 L259.3 831.3 L258 838 L258.6 845.3 L264 851.3 L266 856 L270.6 858 L269.3 865.3 L264 870 L253.3 872.6 L241.3 873.3 L236 873.6 L229.3 869.3 L227.3 862 L229.3 854 L232 843.3 L238.6 838 L241.3 836 L240.3 830.6 L246.6 827.3 L249.3 818 L249.6 810Z" fill="#FFFFBE"/>
<g clip-path="url(#clip3)">
<path d="M186 166.2 L232.9 163 L242.2 226.9 L174.8 229.4 L184.8 214.9 L186 207.4 L192.2 203.7 L197.7 202.4 L197.2 191.2 L193.5 189.9 L186 187.4 L184.8 175Z" fill="#C4E69B"/>
<path d="M234.7 163.7 L272.8 165.5 L275.8 173.7 L282.1 181.2 L289.6 187.4 L289.6 196.2 L284.6 193.7 L274.6 188.7 L267.1 182.4 L257.1 177 L247.1 176.2 L239.7 179.9 L237.2 187.4Z" fill="#C4E69B"/>
<path d="M309.5 192.4 L319.5 199.9 L329.5 212.4 L339.5 224.9 L344.5 219.9 L352 216.1 L359.4 222.4 L361.9 237.3 L356.9 242.3 L339.5 242.3 L334.5 232.4 L327 222.4 L314.5 217.4 L307 219.9 L304.5 199.9Z" fill="#C4E69B"/>
<path d="M299.5 227.4 L307 232.4 L318.3 276.8 L297.1 279.8 L289.6 274.8 L284.6 259.8 L289.6 249.8 L297.1 237.3Z" fill="#C4E69B"/>
<path d="M329.5 249.8 L339.5 247.3 L349.5 254.8 L354.4 269.8 L337 273.5 L332 262.3Z" fill="#C4E69B"/>
<path d="M252.1 274.8 L264.6 277.3 L269.6 273.5 L278.3 277.3 L278.3 284.8 L253.4 287.7Z" fill="#C4E69B"/>
<path d="M294.6 312.2 L302 307.2 L314.5 309.7 L315.8 319.7 L318.3 332.2 L304.5 334.7 L297.1 324.7Z" fill="#C4E69B"/>
<path d="M297.1 347.1 L314.5 352.1 L324.5 362.1 L332 367.1 L327 374.6 L322 369.6 L312 372.1 L309.5 379.6 L309.5 362.1 L299.5 357.1Z" fill="#C4E69B"/>
<path d="M334.5 369.6 L356.9 364.6 L366.9 369.6 L369.4 384.6 L374.4 399.5 L381.9 409.5 L379.4 424.5 L369.4 427 L359.4 432 L349.5 432 L337 424.5 L324.5 419.5 L314.5 414.5 L304.5 399.5 L327 391.6Z" fill="#C4E69B"/>
<path d="M244.6 437 L274.6 432 L276.6 449.5 L242.2 450.7Z" fill="#C4E69B"/>
<path d="M276.6 395.8 L304.5 395.8 L297.1 404.5 L284.6 404.5Z" fill="#C4E69B"/>
<path d="M277.6 429.5 L297.1 428.2 L312 424.5 L312 439.5 L298.3 449.5 L277.6 449.5Z" fill="#C4E69B"/>
<path d="M381.9 274.8 L396.9 272.3 L398.1 286 L381.9 287.3Z" fill="#C4E69B"/>
<path d="M376.9 289.7 L396.9 287.3 L399.4 309.7 L384.4 304.7 L379.4 312.2 L374.4 299.7Z" fill="#C4E69B"/>
<path d="M347 274.8 L356.9 277.3 L354.4 289.7 L349.5 289.7Z" fill="#C4E69B"/>
<path d="M431.8 369.6 L446.8 375.8 L464.2 399.5 L464.2 419.5 L451.8 407 L444.3 409.5 L426.8 409.5 L429.3 389.6Z" fill="#C4E69B"/>
<path d="M444.3 409.5 L459.3 417 L459.3 449.5 L449.3 470.7 L439.3 470.7 L444.3 437Z" fill="#C4E69B"/>
<path d="M156.1 199.9 L161 198.7 L164.8 199.9 L169.8 192.4 L174.8 193.7 L182.3 196.2 L189.7 194.9 L193.5 189.9 L197.2 191.2 L197.7 202.4 L192.2 203.7 L186 207.4 L184.8 216.1 L177.3 213.6 L174.8 227.4 L169.8 228.6 L171 212.4 L166 206.1 L158.6 203.7Z" fill="#33A357"/>
<path d="M272.8 165.5 L323.3 159.5 L314.5 175 L305.8 189.9 L289.6 184.9 L282.1 181.2 L275.8 173.7Z" fill="#33A357"/>
<path d="M338.2 244.8 L344.5 239.8 L352 244.8 L359.4 249.8 L358.2 257.3 L349.5 254.8Z" fill="#33A357"/>
<path d="M370.7 259.8 L396.9 256.8 L397.4 272.3 L381.9 274.8 L381.9 287.3 L371.9 288.5Z" fill="#33A357"/>
<path d="M279.6 286 L302 281.8 L347 273.5 L349.5 289.7 L337 286.8 L324.5 297.2 L312 304.7 L308.3 309.7 L297.1 309.7 L294.6 299.7Z" fill="#33A357"/>
<path d="M314.5 309.7 L324.5 302.2 L337 299.7 L352 309.7 L361.9 309.7 L366.9 324.7 L371.9 347.1 L359.4 349.6 L353.2 359.1 L337 349.6 L334.5 332.2 L318.3 332.2Z" fill="#33A357"/>
<path d="M366.9 324.7 L374.4 312.2 L384.4 304.7 L398.1 324.7 L405.6 355.9 L394.4 354.6 L386.9 359.6 L384.4 372.1 L374.4 347.1Z" fill="#33A357"/>
<path d="M297.1 347.1 L314.5 339.7 L334.5 332.2 L337 349.6 L327 354.6 L314.5 352.1Z" fill="#33A357"/>
<path d="M320.8 367.1 L329.5 362.1 L334.5 369.6 L327 377.1Z" fill="#33A357"/>
<path d="M340.7 379.6 L355.7 372.1 L354.4 384.6 L347 389.6Z" fill="#33A357"/>
<path d="M238.4 418.3 L249.6 417 L252.1 410.8 L257.1 419.5 L264.6 414.5 L269.6 422 L276.6 419.5 L277.6 429.5 L244.6 437Z" fill="#33A357"/>
<path d="M276.6 395.8 L284.6 404.5 L297.1 404.5 L304.5 395.8 L312 402 L312 424.5 L297.1 428.2 L297.1 422 L287.1 422 L277.6 429.5Z" fill="#33A357"/>
<path d="M426.8 409.5 L444.3 409.5 L444.3 437 L434.3 437 L424.3 429.5Z" fill="#33A357"/>
<path d="M369.4 427 L379.4 424.5 L380.6 414.5 L374.4 409.5Z" fill="#33A357"/>
<path d="M309.5 286 L324.5 284.8 L327 294.7 L314.5 299.7Z" fill="#C4E69B"/>
<path d="M272.8 165.5 L280.8 165 L285.8 161.2 L297.1 160 L299.5 175 L289.6 178.7 L283.3 175 L277.1 173.7Z" fill="#006837"/>
<path d="M355.7 257.3 L359.4 247.3 L361.9 238.6 L371.9 238.6 L371.9 268.5 L356.4 269.8Z" fill="#006837"/>
<path d="M356.4 269.8 L370.7 268.5 L374.4 274.8 L369.4 288.5 L356.9 289.7Z" fill="#006837"/>
<path d="M337 286.8 L352 289.7 L353.2 299.7 L356.9 309.7 L352 309.7 L337 299.7 L332 294.7Z" fill="#006837"/>
<path d="M315.8 319.7 L322 314.7 L332 312.2 L342 314.7 L352 312.2 L359.4 324.7 L364.4 337.2 L370.7 347.1 L359.4 349.6 L353.2 359.1 L345.7 353.4 L347 349.6 L335.7 342.2 L333.2 331.7 L318.3 332.2Z" fill="#006837"/>
<path d="M278.3 342.2 L284.6 337.2 L299.5 335.9 L314.5 333.4 L333.2 331.7 L334.5 342.2 L324.5 344.6 L314.5 347.1 L304.5 340.9 L297.1 345.9 L284.6 347.1 L277.1 344.6Z" fill="#006837"/>
<path d="M276.6 402 L283.3 407 L287.1 414.5 L284.6 422 L277.1 424.5Z" fill="#006837"/>
<path d="M334.5 394.6 L347 392.1 L344.5 402 L337 409.5 L334.5 402Z" fill="#006837"/>
<path d="M475.8 544.6 L526.4 531.6 L533.2 584.5 L519.4 599.5 L499.5 611.9 L485.7 620.7 L479.5 574.5Z" fill="#C4E69B"/>
<path d="M479.5 449.7 L495.7 443.5 L524.4 451 L524.4 464.7 L508.2 474.7 L493.2 482.2 L482 485.9 L474.5 474.7Z" fill="#C4E69B"/>
<path d="M430.8 372.4 L445.8 376.1 L467 409.8 L460.8 417.3 L455.8 419.8 L444.6 407.3 L425.8 409.8 L428.3 394.8Z" fill="#C4E69B"/>
<path d="M444.6 409.8 L459.5 439.7 L459.5 446 L450.8 449.7 L447.1 464.7 L442.1 465.9 L438.3 454.7 L433.3 442.2 L440.8 437.3 L445.8 434.8Z" fill="#C4E69B"/>
<path d="M422.1 545.8 L433.3 544.6 L439.6 550.8 L435.8 562 L425.8 569.5 L420.9 562Z" fill="#C4E69B"/>
<path d="M412.1 587 L422.1 584.5 L424.6 592 L422.1 603.2 L413.4 603.2Z" fill="#C4E69B"/>
<path d="M385.9 359.9 L393.4 353.7 L405.9 358.6 L390.9 372.4Z" fill="#C4E69B"/>
<path d="M326 387.3 L336 369.9 L351 364.9 L361 362.4 L368.5 369.9 L370.9 382.4 L366 392.3 L373.4 399.8 L383.4 404.8 L378.4 417.3 L380.9 424.8 L373.4 434.8 L366 439.7 L363.5 429.8 L351 432.3 L338.5 429.8 L328.5 422.3 L316 414.8 L306.1 409.8 L311.1 399.8 L321 394.8Z" fill="#C4E69B"/>
<path d="M323.5 354.9 L338.5 349.9 L351 357.4 L346 364.9 L336 369.9 L326 374.9 L316 372.4 L311.1 359.9Z" fill="#C4E69B"/>
<path d="M243.7 434.8 L276.1 429.8 L277.4 449.7 L243.7 449.7Z" fill="#C4E69B"/>
<path d="M314.8 459.7 L328.5 449.7 L331 454.7 L321 464.7Z" fill="#C4E69B"/>
<path d="M286.1 584.5 L328.5 584.5 L328.5 620.7 L293.6 620.7 L283.6 599.5Z" fill="#C4E69B"/>
<path d="M427.1 409.8 L444.6 407.8 L445.8 434.8 L440.8 437.3 L433.3 442.2 L425.8 429.8Z" fill="#33A357"/>
<path d="M417.1 432.3 L429.6 431 L428.3 449.7 L422.1 462.2 L415.9 449.7Z" fill="#33A357"/>
<path d="M484.5 438.5 L497 442.2 L494.5 449.7 L485.7 453.5 L478.3 451Z" fill="#33A357"/>
<path d="M419.6 533.3 L425.8 539.6 L423.4 559.5 L418.4 568.3 L413.4 564.5 L412.1 549.5Z" fill="#33A357"/>
<path d="M341 379.9 L351 372.4 L356 374.9 L354.7 387.3 L348.5 389.8Z" fill="#33A357"/>
<path d="M306.1 394.8 L326 393.6 L321 399.8 L311.1 409.8 L313.6 424.8 L311.1 442.2 L298.6 447.2 L297.3 422.3 L286.1 422.3 L291.1 412.3 L301.1 404.8Z" fill="#33A357"/>
<path d="M238.7 419.8 L248.7 417.3 L251.2 409.8 L256.2 419.8 L263.6 414.8 L268.6 422.3 L276.1 417.3 L277.4 434.8 L243.7 436 L242.4 427.3Z" fill="#33A357"/>
<path d="M304.8 487.2 L316 474.7 L323.5 484.7 L326 494.6 L348.5 485.9 L356 489.7 L356 512.1 L338.5 514.6 L331 507.1 L323.5 502.1 L311.1 499.6Z" fill="#33A357"/>
<path d="M321 367.4 L328.5 362.4 L333.5 372.4 L326 377.4Z" fill="#33A357"/>
<path d="M334.8 393.6 L346 392.3 L343.5 402.3 L338.5 409.8 L334.8 402.3Z" fill="#006837"/>
<path d="M427.1 387.3 L433.3 388.6 L437.1 396.1 L428.3 398.6Z" fill="#006837"/>
<path d="M402.1 564.5 L412.1 567 L415.9 577 L414.6 584.5 L409.6 587Z" fill="#006837"/>
<path d="M272.4 580.7 L287.3 582 L284.9 599.5 L266.1 597Z" fill="#006837"/>
<path d="M348.5 482.2 L356 479.7 L354.7 492.2 L349.7 489.7Z" fill="#006837"/>
<path d="M87.4 654.6 L99.9 649.6 L112.4 652.1 L114.4 659.6 L116.1 665.8 L123.6 673.3 L134.8 682.1 L129.9 692 L132.4 704.5 L112.4 702 L102.4 712 L94.9 709.5 L92.4 689.5 L87.4 664.6Z" fill="#C4E69B"/>
<path d="M224.7 625.9 L238.4 624.7 L222.2 684.6 L212.2 685.8 L213.5 677.1 L209.7 664.6 L204.7 652.1 L207.2 639.6 L214.7 632.2Z" fill="#C4E69B"/>
<path d="M288.3 583.5 L327 584.7 L328.2 614.7 L324.5 624.7 L302 639.6 L297.1 637.1 L293.3 628.4 L307 624.7 L305.8 612.2 L289.6 612.2 L284.6 599.7Z" fill="#C4E69B"/>
<path d="M314.5 462.5 L329.5 449.5 L324.5 460Z" fill="#C4E69B"/>
<path d="M302 639.6 L324.5 624.7 L332 629.7 L327 647.1 L324.5 662.1 L317 672.1 L309.5 689.5 L310.8 699.5 L304.5 699.5 L297.1 684.6 L287.1 682.1 L297.1 674.6 L302 664.6 L299.5 652.1Z" fill="#33A357"/>
<path d="M91.2 669.6 L96.2 664.6 L98.7 675.8 L103.7 677.1 L101.2 687.1 L93.7 687.1Z" fill="#006837"/>
<path d="M301.7 280.9 L346.8 274.2 L355.2 270.1 L355.2 256.7 L371 256.7 L371 259.6 L396.5 256.3 L399.5 285.1 L395.3 300.2 L398.6 307.7 L391.9 315.2 L396.1 328.6 L394.5 336.9 L402.8 353.6 L408.7 356 L345.1 356 L341.8 348.6 L336.8 347 L334.3 333.6 L316.7 332.7 L315 319.4 L320.1 316 L315 306.8 L309.2 299.3Z" fill="#FFFFBE"/>
<path d="M329.3 252.5 L335.1 250 L350.2 250 L354.3 257.5 L355.2 269.2 L340.1 270.9 L335.1 262.5Z" fill="#C4E69B"/>
<path d="M344.3 250 L358.5 250 L358.5 255 L354.3 258.4Z" fill="#33A357"/>
<path d="M355.2 257.5 L358.5 255 L360.2 250 L371 250 L371 269.2 L356.8 270.1Z" fill="#006837"/>
<path d="M301.7 280.9 L346.8 274.2 L348.5 287.6 L335.9 286.8 L315 306 L309.2 299.3Z" fill="#33A357"/>
<path d="M333.4 278.4 L345.1 275.1 L346.8 286.8 L337.6 286.8 L333.4 283.4Z" fill="#006837"/>
<path d="M312.5 290.1 L321.7 285.9 L330.1 291 L317.6 300.2 L314.2 295.1Z" fill="#C4E69B"/>
<path d="M346.8 273.4 L355.2 272.6 L353.5 277.6 L347.6 278.4Z" fill="#33A357"/>
<path d="M348.5 278.4 L358.5 276.7 L354.3 286.8 L350.2 288.4Z" fill="#C4E69B"/>
<path d="M355.2 270.1 L369.4 268.4 L365.2 277.6 L361.9 290.1 L354.3 289.3 L358.5 280.1Z" fill="#006837"/>
<path d="M369.4 268.4 L371.5 269.2 L371.9 286.8 L361.9 290.1 L365.2 277.6Z" fill="#33A357"/>
<path d="M371 260.9 L396.5 256.3 L399.5 285.1 L397.4 287.6 L375.2 290.1 L371 286.8Z" fill="#33A357"/>
<path d="M371 269.2 L380.2 270.9 L381.9 286.8 L375.2 289.3 L371 277.6Z" fill="#006837"/>
<path d="M373.6 265.9 L387.8 259.2 L387.8 264.2 L378.6 269.2Z" fill="#006837"/>
<path d="M382.7 278.4 L386.9 273.4 L395.3 275.1 L397.8 286.8 L382.7 287.6Z" fill="#C4E69B"/>
<path d="M376.9 290.1 L397.8 287.6 L395.3 300.2 L398.6 307.7 L391.9 315.2 L383.6 311.9 L378.6 305.2 L377.7 295.1Z" fill="#C4E69B"/>
<path d="M378.6 305.2 L383.6 311.9 L391.9 315.2 L396.1 328.6 L394.5 336.9 L402.8 353.6 L408.7 356 L380.2 356 L373.6 341.9 L366.9 326.9 L371 316.9 L375.2 310.2Z" fill="#33A357"/>
<path d="M381.9 317.7 L391.1 316 L395.3 328.6 L380.2 325.2Z" fill="#006837"/>
<path d="M319.2 300.2 L330.9 295.1 L336.8 299.3 L338.4 303.5 L333.4 305.2 L327.6 308.5 L325.1 314.4 L320.1 311.9Z" fill="#C4E69B"/>
<path d="M360.2 309.3 L371.9 308.5 L369.4 316 L366.9 319.4 L358.5 320.2 L358.5 316Z" fill="#33A357"/>
<path d="M356.8 320.2 L367.7 318.5 L363.5 323.6 L358.5 325.2Z" fill="#33A357"/>
<path d="M335.9 286.8 L350.2 289.3 L353.5 291 L350.2 296.8 L353.5 301.8 L357.7 302.7 L353.5 308.5 L351.8 315.2 L353.5 319.4 L358.5 325.2 L361.9 333.6 L371.9 347.8 L357.7 349.5 L356.8 356 L345.1 356 L341.8 348.6 L336.8 347 L334.3 333.6 L316.7 332.7 L315 319.4 L320.1 316 L320.9 311.9 L325.1 314.4 L333.4 316.9 L348.5 315.2 L349.3 311 L339.3 309.3 L339.3 303.5 L335.9 297.6 L330.9 294.3Z" fill="#006837"/>
<path d="M325.1 314.4 L327.6 308.5 L333.4 305.2 L339.3 303.5 L339.3 309.3 L349.3 311 L348.5 315.2 L333.4 316.9Z" fill="#33A357"/>
<path d="M335.9 334.4 L343.5 337.8 L346.8 347.8 L337.6 346.1Z" fill="#33A357"/>
<path d="M357.7 349.5 L371.9 347.8 L375.2 356 L356.8 356Z" fill="#33A357"/>
</g>
<path d="M232.9 163 L242.2 226.9 M115.6 231.1 L242.2 226.9 L304.5 220.4 M272.8 165.5 L275.8 173.7 L282.1 181.2 L289.6 184.9 L305.8 189.9 L314.5 175 L323.3 159.5 M305.8 189.9 L304.5 199.9 L305.8 220.4 M305.8 191.2 L308.6 192.6 L311.2 194.1 L313.4 196.3 L316.2 197.7 L318.3 199.9 L320 202.1 L320.3 204.8 L320.4 207.7 L322 209.9 L324.2 212.2 L326.7 214 L329.8 215.1 L332 217.4 L333.8 219.9 L336.1 222.2 L338.1 224.5 L339.5 227.4 L341.4 229.6 L342.5 232.1 L342.6 235.2 L344.5 237.3 L346.6 239.9 L349.1 241.9 L352 243.6 L354.1 246.1 L357.3 247.3 L359.4 249.8 L359.7 253.6 L359.4 257.3 M242.2 226.9 L252.1 287.7 M304.5 220.4 L318.3 276.8 M117.4 292.2 L252.1 287.7 L318.3 276.8 L347 272.8 L370.7 269.3 M180.3 292.2 L194.2 395.8 M252.1 287.7 L262.1 345.9 L268.4 394.1 M120.6 398.3 L268.4 394.1 L327 391.6 M262.1 345.9 L264.6 344.7 L267.1 343.8 L269.6 342.6 L272.9 343.6 L276.3 343.1 L279.6 343.4 L282.1 344.3 L284.5 345.4 L287.3 345.6 L289.6 347.1 L292.7 346.2 L295.9 345.5 L299.1 344.8 L302 343.4 L304.3 342 L306.9 341.6 L309.3 340.5 L312.2 341 L314.5 339.7 L316.1 337.4 L316.3 334.3 L318.3 332.2 M318.3 332.2 L317.6 329.1 L317.3 325.9 L316.7 322.8 L315.8 319.7 L316.1 317 L316.8 314.4 L318.4 312.1 L319.5 309.7 L316.7 307.9 L314.9 305.1 L312 303.5 M302 281.8 L308.3 294.7 L312 306 M312 306 L337 286.8 L352 289.7 L371.9 289.2 M318.3 332.2 L321.3 332.9 L324.2 331.1 L327.3 332.3 L330.2 331.2 L333.2 331.7 L333 334.5 L335.3 336.7 L334.4 339.7 L335.7 342.2 L337.8 344 L339.9 345.7 L342 347.4 L345 347.7 L347 349.6 L345.7 353.4 L348.4 355.1 L350.5 357.5 L353.2 359.1 L354.4 356.5 L355.9 354.1 L357.4 351.7 L359.4 349.6 L362.4 349.6 L365.2 349 L368 348.2 L370.7 347.1 M347 272.8 L349.5 289.7 M371.9 288.5 L396.9 286 M327 391.6 L327.4 389 L329.1 386.8 L329.5 384.2 L330.2 381.7 L331.7 379.4 L332.6 377 L333.5 374.5 L334.5 372.1 L337 371 L339.3 369.7 L341.8 368.7 L344.6 368.4 L347 367.1 L349.3 365.6 L352.1 364.9 L354.7 363.8 L356.9 362.1 L359.2 363.6 L361.6 364.5 L364.4 364.6 L366.1 366.9 L366.9 369.6 M276.6 394.6 L277.6 449.5 M287.1 422 L304.5 395.8 L327 391.6 M287.1 422 L297.1 422 L298.3 449.5 M121.1 454.9 L268.4 452 L329.5 448.2 M355.7 257.3 L369.4 256.1 L370.7 268.5 L356.4 269.8 L355.7 257.3 M269.1 451.2 L270.3 499.4 M120.6 502.9 L207.2 500.6 L284.6 499.4 L309.5 498.6 M284.6 499.4 L287.1 559.8 L293.3 582.7 M118.6 544.8 L223.4 531.1 L228.4 562.3 L293.3 582.7 L327 584.2 M166 539.8 L168.7 541.1 L170.8 543 L172.5 545.6 L174.8 547.3 L176.2 550.5 L177.1 553.8 L177.3 557.3 L179.2 559.8 L181 562.3 L179.4 564.4 L177.9 566.6 L175.9 568.4 L173.6 569.9 L172.3 572.3 L171.3 575.1 L169.6 577.6 L168.3 580.2 L166 582.2 L166.2 585.4 L166.1 588.5 L164.2 591.5 L164.8 594.7 L164.7 597.7 L163.1 600.4 L164.2 603.5 L162.4 606.3 L162.7 609.3 L162.3 612.2 L162.9 614.8 L163.9 617.3 L165.5 619.6 L166 622.2 L165.7 625.3 L164.2 628.1 L164.4 631.3 L163.9 634.3 L162.3 637.1 M228.4 562.3 L228.7 565.1 L229.4 567.7 L228.9 570.6 L230.3 573.2 L230.3 576 L231 578.7 L231.2 581.5 L230.6 584.3 L232.5 586.9 L232.2 589.7 L233 592.5 L234.1 595.3 L234.6 598.2 L234.2 601.3 L236.1 603.9 L236.3 606.9 L237.2 609.7 L236.9 613.1 L235.9 616.3 L235.9 619.7 L237.2 622.2 L238.4 624.7 M162.3 637.1 L165.2 637.4 L168.2 637.2 L171.1 636.9 L173.9 638.2 L176.9 637.7 L179.8 638.4 L181 635.4 L182.7 632.7 L184.7 630.1 L186 627.2 L188.3 624.8 L189 621.5 L191.4 619.2 L192.2 615.9 L194.4 617.7 L197.4 617.4 L200 618 L202.2 619.7 L205.1 621.3 L206.8 624.3 L209.7 625.9 L212.7 626.1 L215.7 626.7 L218.7 626.7 L221.7 626.2 L224.7 625.9 L227.4 625.7 L230.1 624.6 L232.8 624.3 L235.7 625.5 L238.4 624.7 M238.4 624.7 L219.7 692 M114.4 659.6 L116 662.5 L116.1 665.8 L118.3 667.3 L120.1 669.3 L121.2 671.9 L123.6 673.3 L125.8 671.1 L128.3 669.2 L129.7 666.3 L132.4 664.6 L134.9 663.4 L137.6 662.7 L139.8 660.9 L142.3 659.6 L144.4 661.6 L147 662.7 L149.9 663.1 L152.7 663.8 L154.8 665.8 L155.7 663.2 L155 660.3 L155.2 657.6 L156.9 655.1 L157.5 652.4 L157.3 649.6 L158.9 647.3 L160.1 644.9 L159.8 641.9 L160.6 639.3 L162.3 637.1 M154.8 665.8 L156.8 714.5 M327 584.2 L328.2 614.7 L324.5 624.7 L302 639.6 M388.5 373.6 L406 356.1 M425.9 409.8 L444.6 407.8 M419.7 533.3 L462.1 570.8 M414.7 568.3 L434.7 598.2 M475.8 544.6 L526.5 531.6" fill="none" stroke="#000" stroke-width="1.3" stroke-linejoin="round"/>
<path d="M244 836 L248 830 L250.6 829.3 L251.6 835.3 L254 838 L253.3 842.6 L250 843.3 L246.6 842Z M370.7 285.1 L373.1 286.8 L373.9 291.8 L375.9 293.5 L378.2 295.8 L377.4 300.2 L376.4 305.2 L375.4 310.2 L372.9 314.2 L371.5 308.5 L372.4 303.5 L372.7 298.5 L371.9 293.5 L371 289.3Z M413.4 365.1 L417.6 364.2 L419.3 368.4 L416.8 372.6 L413.4 373.4 L410.9 376.8 L410.1 373.4 L411.8 368.4Z M296.6 636.6 L297.6 638.5 L296.8 640.8 L298.8 642.4 L298.2 644.7 L299.1 646.6 L300.1 648.7 L300.2 651 L300 653.3 L299.7 655.7 L301.6 657.6 L301.6 659.9 L300.9 662 L300.9 664.1 L300.5 666.2 L300 668.3 L299.2 670.5 L298.9 672.9 L297.5 674.9 L295.5 675.7 L294.6 678 L292.8 679 L290.8 679.9 L289.1 677.7 L289.1 674.9 L288.9 672.8 L289.4 670.7 L290.5 668.8 L290 666.6 L290.1 664.6 L290 662.5 L290.5 660.5 L292.2 658.7 L291.6 656.6 L291.5 654.3 L293.1 652.5 L293.3 650.3 L294.1 648.3 L294.9 646 L294.8 643.6 L295.9 641.4 L296.1 638.9Z M329.6 569.2 L331.6 571.7 L330 578.3 L330 593.3 L329.3 610 L327.6 622.5 L323.3 627.5 L326.6 621.6 L328.1 610 L328.6 593.3 L328 578.3Z M106.6 724.1 L108.5 723.1 L110.4 722.1 L112.7 722.3 L114.4 720.7 L116.6 720.7 L118.8 720.3 L121 719.6 L123.2 718.7 L125.5 719 L127.6 717.8 L130 718.2 L131.7 719.4 L133.3 720.7 L131.3 722 L129 722.5 L126.7 722.5 L124.3 722.4 L122.4 724.2 L120 724.1 L117.8 725.1 L115.3 724.9 L112.8 724.8 L110.6 726 L108.3 726.6Z M143.3 720.7 L145.2 719.6 L147.1 718.5 L149.4 718.5 L151 716.7 L153.3 716.6 L155 714.8 L156.4 712.7 L157.7 710.4 L159.9 709.1 L162.1 708.3 L164.1 706.7 L166.6 706.6 L167.6 709.1 L168.3 711.6 L167.2 714 L165.5 715.9 L163.3 717.4 L161.1 718.4 L158.6 718.5 L156.6 719.9 L154.9 721.2 L152.9 721.8 L150.7 721.8 L148.5 721.9 L146.8 723.3 L144.9 724.1Z M176.6 704.9 L178.1 703.2 L179.5 701.5 L181.8 700.8 L183.3 699.1 L185.4 698.5 L187.4 699.6 L189.5 699.5 L191.6 699.9 L193.6 698.9 L195.8 699.5 L197.7 698.5 L199.9 699.1 L201.5 697.6 L202.7 695.6 L204.4 694.2 L206.6 693.3 L208.6 692.7 L210.9 693 L212.7 691.4 L214.9 691.6 L216.9 692.9 L218.2 694.9 L216 695.7 L213.7 696.3 L211.9 697.9 L209.9 699.1 L208 700.1 L205.6 699.9 L204.2 702.3 L201.7 701.8 L199.9 703.2 L198.1 704.3 L196.2 705.2 L194.3 705.9 L192.2 706.3 L190 706.2 L188.2 707.4 L186.4 708.6 L184.2 708.6 L182.2 709.1 L180.4 710.3 L178.3 710.7 L175.8 708.2Z M223.2 689.9 L224.6 688.3 L227 688.1 L227.8 685.6 L229.9 684.9 L231.7 687.3 L234.1 689.1 L233.5 691.6 L231.6 693.3 L229.4 694 L227 692.9 L224.9 694.1 L223.6 692.2Z M475.2 485.3 L480.2 487.5 L484.6 496.3 L483.2 500 L478.6 495.3Z M462.9 473.6 L465.7 471.3 L468.6 473.6 L468.2 478.3 L465.2 480 L462.9 477.5Z M273.2 668.3 L274.5 670.3 L275.9 672.3 L277.5 674.2 L278.2 676.6 L280 678 L282.7 677.4 L284.4 679.1 L286.5 679.9 L284.3 681.1 L283.2 683.3 L281.2 684.3 L279 683.6 L277 683.7 L274.9 684.1 L273.3 681.9 L273 679.2 L272.4 676.6 L273 674.6 L272.7 672.4 L273.4 670.4Z" fill="#fff" stroke="#000" stroke-width="1"/>
<path d="M406.7 360.9 L407.2 367.6 L408 375.1 L411.8 381.8 L417.6 385.1 L421.8 389.3 L425.1 393.5 L427.6 397.7 M407.6 361.7 L409.3 367.6 L410.9 373.4 L413.4 373.4 M354.3 453.5 L346.8 455.6 L341.8 458.5 L336.8 460.6 L333.4 464.4 L329.3 469.4 L326.7 476.1 M333 446.8 L330.9 453.5 L327.6 460.2 L324.2 462.3 M372.7 313.5 L370.2 316.9 L367.7 319.4 L363.5 323.6 M371 274.2 L371.9 287.6" fill="none" stroke="#000" stroke-width="1.6" stroke-linejoin="round"/>
<path d="M114.4 166.5 L370.4 158.5 L370.2 259.8 L371 259.6 L396.5 256.3 L397 270.9 L399.5 285.1 L397.4 289.3 L395.3 300.2 L398.6 307.7 L391.9 315.2 L396.1 328.6 L394.5 336.9 L402.8 353.6 L406.7 355.9 L444.4 375.5 L466.5 411 L464.4 415.2 L458.6 420.2 L455.2 419 L457.7 415.2 L455.2 409.4 L451 405.2 L446.9 403.5 L444.4 398.5 L442.7 396 L443.5 401.9 L446 407.7 L450.2 413.6 L454 419.8 L456.9 427.8 L460.2 436.1 L459.9 438.3 L459.1 444.2 L454.1 446.7 L450.7 453.3 L447.4 463.3 L444.1 465.8 L440.7 460.8 L439.1 453.3 L435.8 445 L433.3 439.2 L432.4 433.3 L432.2 433.3 L428.1 433.8 L426.8 437.8 L427.8 446 L428.3 446.7 L424.1 453.3 L420.8 460.8 L417.4 455 L416.6 445 L416.8 445 L417.6 435.3 L420.1 433.4 L423.5 434.5 L424.3 427.8 L425.6 411 L428.1 409.4 L430.2 406.9 L429.3 398.5 L430.2 393.5 L433.5 390.2 L432.7 381.8 L431.8 370.9 L430.2 369.3 L428.9 369.3 L428.1 377.6 L427.6 386.8 L427.2 397.7 L426 401.9 L424.3 405.2 L423.5 400.2 L421 403.5 L421 411 L418.9 414.4 L416.8 411 L415.9 403.5 L411.8 399.8 L405.1 398.5 L398 397.7 L395 393.5 L393.8 387.6 L392.5 382.6 L390 380.1 L388.4 373.4 L386.6 372.4 L384.1 378.2 L382.5 371.6 L378.3 363.3 L377 354.9 L379.4 356 L375.2 346.1 L371 340.3 L366.9 333.6 L365.2 326.1 L361.9 324.4 L360.2 326.9 L361.9 333.6 L365.2 337.8 L370.2 344.5 L373.6 350.3 L375.2 356 L366.6 351.6 L364.6 356.6 L367.5 366.6 L370 374.9 L372 383.2 L368.3 388.2 L365.8 393.2 L370 396.6 L375 402.4 L380 404.9 L386.5 405 L380.2 407.5 L376.9 408.8 L379.8 410.9 L381.1 416.7 L380.2 421.7 L382.3 425.9 L379.4 428.8 L376.5 435.9 L375.6 442.6 L372.7 447.2 L369.4 445.6 L366.5 441.8 L365.2 436.8 L364.4 432.2 L362.7 425.1 L361.4 427.6 L358.5 432.2 L354.3 430.9 L351.8 431.8 L348.5 427.6 L346.8 432.2 L341.8 430.9 L335.1 430.5 L330.5 429.3 L328.4 425.1 L323.4 421.3 L327.6 427.6 L329.3 433.4 L330.9 439.3 L332.6 441.8 L330.5 445.1 L333.4 446.8 L339.3 445.1 L343.5 443 L348.5 447.6 L354.3 450.2 L354.7 458.5 L355.2 466.9 L356 475.2 L357.7 480.2 L353.5 484.4 L356.8 488.6 L357.7 491.1 L351.8 493.6 L350.2 497 L357.7 499.5 L357.7 506 L355.8 513.3 L341.6 514.6 L335.8 518.3 L334.1 511.6 L330 508.3 L327.5 516.6 L329.1 518.6 L330.7 520.6 L330.8 523.3 L332.1 525.8 L335.2 526.9 L335.8 529.9 L336.7 532 L338.2 533.7 L340.1 535.3 L339.8 537.9 L340.8 539.9 L343.2 541.8 L343.1 544.8 L345.2 546.9 L345 549.9 L347.1 551.8 L346.9 554.5 L346.5 557.3 L349.4 558.9 L349.1 561.6 L349.6 573.2 L346.6 580.7 L347.5 589.9 L348.3 603.2 L342.5 607.4 L344.1 616.6 L339.9 626.6 L335.8 632.5 L331.6 631.6 L326.6 638.3 L327.5 649.9 L325.8 659.9 L320.8 666.6 L316.6 676.6 L311.6 686.6 L309.1 693.3 L310 697.4 L306.6 698.2 L300 690.8 L290 684.9 L271.5 687.4 L254.9 689.1 L234.9 694.1 L216.6 699.1 L194.9 707.4 L178.3 714.1 L166.6 720.7 L149.9 722.4 L141.6 724.9 L123.3 724.1 L106.6 727.4 L91.6 733.2 L76.7 741.6 L75.8 744.1 L71.7 738.2 L60 741.6 L62.5 738.2 L70 736.6 L75 737.4 L77.5 731.6 L79.1 729.9 L80.9 728.4 L82.5 726.6 L84.4 724.8 L84.6 722.1 L85.8 719.9 L87.7 718.8 L89.8 717.9 L91.6 716.6 L92.1 714.1 L93.9 712.1 L95 709.9 L93.8 707.5 L92.7 705.1 L90.8 703.2 L89.7 700.8 L90 698.3 L89.3 695.8 L90 693.3 L91.3 691 L91.7 688.4 L90.9 685.6 L92.5 683.3 L92.9 680.5 L92.2 678.1 L91 675.7 L90 673.3 L89.4 670.7 L87.6 668.5 L86.4 666.1 L86.6 663.3 L87 660.8 L86.2 658.2 L87.5 655.8 L89.3 654.2 L91.4 653.3 L93.3 651.9 L95.8 651.8 L97.9 650.8 L100 649.9 L111.6 651.3 L114.1 650.8 L118.6 544.8 L120.6 502.4 L121.1 455 L120.6 398.3 L117.4 292.2 L116.1 231.1Z M469.1 455.8 L470.7 462.5 L472.4 470 L471.6 478.3 L466.6 483 L459.9 480 L457.4 485 L455.7 496.6 L456.6 508.3 L460.7 520.8 L459.9 533.3 L462.4 544.9 L464.9 558.3 L461.6 569.9 L458.2 579.9 L454.9 588.2 L459.9 594.1 L457.4 601.6 L454.1 605.7 L452.4 598.2 L448.2 592.4 L441.6 594.1 L437.4 599.9 L433.3 594.1 L428.3 592.4 L422.4 596.6 L423.3 601.6 L419.9 604.9 L420.8 610.7 L416.6 613.2 L414.9 621.6 L410.8 617.4 L406.6 619.9 L398.3 624 L396.6 619.9 L389.9 621.6 L386.6 624 L383.3 614.9 L388.3 610.7 L394.9 604.9 L397.4 599.1 L399.9 604.1 L405.9 603.9 L406.1 593.2 L405.9 579.9 L405.9 568.6 L401.9 566.3 L404.9 563.3 L410.8 564.9 L413.3 553.3 L414.9 544.9 L419.9 533.3 L428.3 521.6 L429.9 513.3 L428.3 508.3 L431.6 503.3 L436.6 493.3 L437.4 481.6 L441.6 477.5 L446.6 470.8 L453.2 468.6 L460.7 467.5 L466.6 461.6Z M376.6 522.8 L381.6 525.8 L383.3 536.6 L382.5 548.3 L380 561.6 L382.5 571.6 L384.1 578.2 L380 583.2 L383.3 596.6 L386.6 599.1 L381.6 601.6 L374.1 603.2 L371.6 593.2 L369.1 581.6 L373.3 576.6 L366.6 573.2 L364.1 564.9 L365.8 553.3 L368.3 543.3 L369.1 533.3 L371.6 526.6Z M359.1 589.1 L366.6 589.9 L368.3 596.6 L366.6 606.6 L364.1 618.2 L359.1 624.9 L358.3 613.2 L360.8 603.2 L360.8 594.9Z M392.4 446.7 L395.8 453.3 L398.3 459.1 L399.9 465.8 L395.8 466.6 L398.3 471.6 L406.6 475.8 L414.9 478.3 L418.3 486.6 L418.6 496.6 L414.9 506.6 L409.9 514.9 L404.9 517.9 L399.9 513.3 L398.3 503.3 L399.9 493.3 L404.1 485 L403.3 478.3 L398.3 475 L392.4 475 L389.1 470 L388.3 461.6 L390.8 457.5 L389.9 451.7Z M484.9 439.7 L497.4 442.5 L523.5 450.8 L523.2 471.6 L518.2 483.3 L519.9 496.6 L524 508.3 L526.5 529.9 L529 546.6 L530.7 563.3 L531.5 584.9 L523.2 588.2 L518.2 596.6 L511.5 599.9 L503.2 606.6 L501.5 613.2 L491.6 616.6 L485.7 620.7 L484.1 611.6 L489.1 606.6 L487.4 596.6 L481.6 583.2 L479.1 571.6 L479.9 559.9 L476.6 546.6 L473.2 544.9 L473.2 538.3 L476.6 533.3 L478.2 523.3 L479.9 516.6 L474.9 513.3 L476.6 503.3 L480.7 498.3 L479.9 493.3 L474.9 486.6 L473.2 480 L474.9 470 L478.2 456.7Z M249.6 802.3 L252.6 806.7 L258.6 808.7 L262.6 812.7 L264.6 818 L262.6 826 L259.3 831.3 L258 838 L258.6 845.3 L264 851.3 L266 856 L270.6 858 L269.3 865.3 L264 870 L253.3 872.6 L241.3 873.3 L236 873.6 L229.3 869.3 L227.3 862 L229.3 854 L232 843.3 L238.6 838 L241.3 836 L240.3 830.6 L246.6 827.3 L249.3 818 L249.6 810Z" fill="none" stroke="#000" stroke-width="1.4" stroke-linejoin="round"/>
</g>
<g transform="translate(1062.7 7)">
<path d="M299.5 174.3L408.3 163.8" stroke="#9a9aa0" stroke-width="1.8" fill="none"/>
<path d="M354.1 318L449.6 307.5" stroke="#9a9aa0" stroke-width="1.8" fill="none"/>
<text x="408.3" y="169.7" class="lb">Woonsocket</text>
<text x="451.9" y="310.0" class="lb">Providence</text>
</g>
<text x="109" y="915" class="lg">Population Below Federal Poverty</text>
<text x="109" y="943.4" class="lg">Level</text>
<rect x="107" y="960.7" width="51.5" height="26" fill="#FEE9AC"/>
<text x="169" y="982" class="lg">&lt;5%</text>
<rect x="107" y="999.2" width="51.5" height="26" fill="#FDC18B"/>
<text x="169" y="1020.5" class="lg">5.1 - 10%</text>
<rect x="107" y="1037.7" width="51.5" height="26" fill="#E8573C"/>
<text x="169" y="1059" class="lg">10.1 - 20%</text>
<rect x="107" y="1076.2" width="51.5" height="26" fill="#7F0000"/>
<text x="169" y="1097.5" class="lg">&gt;20%</text>
<rect x="107.5" y="1115.2" width="50.5" height="24.5" rx="1.5" fill="#fff" stroke="#222" stroke-width="1.5"/>
<text x="169" y="1136" class="lg">Municipal Boundaries</text>
<text x="664.3" y="915" class="lg">Population with Less than High</text>
<text x="664.3" y="943.4" class="lg">School Education</text>
<rect x="663.3" y="960.7" width="51.5" height="26" fill="#D6E6FB"/>
<text x="725" y="982" class="lg">&lt;5%</text>
<rect x="663.3" y="999.2" width="51.5" height="26" fill="#A8C2DD"/>
<text x="725" y="1020.5" class="lg">5.1 - 10%</text>
<rect x="663.3" y="1037.7" width="51.5" height="26" fill="#8C5FAC"/>
<text x="725" y="1059" class="lg">10.1 - 20%</text>
<rect x="663.3" y="1076.2" width="51.5" height="26" fill="#4D004B"/>
<text x="725" y="1097.5" class="lg">&gt;20%</text>
<rect x="663.8" y="1115.2" width="50.5" height="24.5" rx="1.5" fill="#fff" stroke="#222" stroke-width="1.5"/>
<text x="725" y="1136" class="lg">Municipal Boundaries</text>
<text x="1180.3" y="915" class="lg">Median Household Income</text>
<rect x="1179.3" y="932" width="51.5" height="26" fill="#006837"/>
<text x="1241" y="953.3" class="lg">&lt;$45,000</text>
<rect x="1179.3" y="970.5" width="51.5" height="26" fill="#33A357"/>
<text x="1241" y="991.8" class="lg">$45,001 - $60,000</text>
<rect x="1179.3" y="1009" width="51.5" height="26" fill="#C4E69B"/>
<text x="1241" y="1030.3" class="lg">$60,001 - $75,000</text>
<rect x="1179.3" y="1047.5" width="51.5" height="26" fill="#FFFFBE"/>
<text x="1241" y="1068.8" class="lg">&gt;$75,000</text>
<rect x="1179.8" y="1086.5" width="50.5" height="24.5" rx="1.5" fill="#fff" stroke="#222" stroke-width="1.5"/>
<text x="1241" y="1107.3" class="lg">Municipal Boundaries</text>
<text x="28.4" y="1223" class="src">Source: American Community Survey, Five-year estimate, 2013-2017, US Census Bureau</text>
<text x="28.4" y="1247" class="src">All maps use a manual classification scheme. (n=244)</text>
<path d="M965.8 1222.7H1203.6" stroke="#000" stroke-width="1.6"/>
<path d="M965.8 1214.9V1230.5M995.525 1217.2V1228.2M1025.25 1217.2V1228.2M1054.97 1217.2V1228.2M1084.7 1214.9V1230.5M1114.42 1217.2V1228.2M1144.15 1217.2V1228.2M1173.88 1217.2V1228.2M1203.6 1214.9V1230.5" stroke="#000" stroke-width="1.6"/>
<text x="965.8" y="1202.6" class="sb" text-anchor="middle">0</text>
<text x="1025.25" y="1202.6" class="sb" text-anchor="middle">5</text>
<text x="1084.7" y="1202.6" class="sb" text-anchor="middle">10</text>
<text x="1187.5" y="1202.6" class="sb">20 Miles</text>
<text x="1372" y="1160.3" text-anchor="middle" style="font-family:'Liberation Serif',serif;font-size:28px">N</text>
<path d="M1372 1175.4L1399.6 1256L1372 1238.7L1344.6 1256Z" fill="#000"/>
<g transform="translate(1500 1130) scale(0.08313)">
<g fill="#3B4A9F">
<rect x="425" y="115" width="135" height="400"/>
<rect x="710" y="115" width="140" height="455"/>
<rect x="110" y="435" width="1055" height="135"/>
<path d="M110 712H300V850H110Z"/>
<path d="M850 712Q935 745 965 850H1165V712Z"/>
</g>
<circle cx="642" cy="405" r="160" fill="#fff"/>
<path d="M690 470L805 430L728 572L690 650L600 650Z" fill="#fff"/>
<circle cx="560" cy="510" r="135" fill="#3B4A9F"/>
<path d="M690 540L652 630L615 690C640 730 680 750 720 772C800 815 850 850 850 940V1165H710V1000C710 950 680 915 640 882C600 850 520 810 510 770C515 745 560 700 580 670L540 620Z" fill="#3B4A9F"/>
<circle cx="450" cy="622" r="120" fill="#fff"/>
<circle cx="370" cy="740" r="102" fill="#3B4A9F"/>
<path d="M468 760L442 830L410 872C440 905 500 935 540 975C555 995 560 1020 560 1050V1165H425V1060C425 1020 400 995 370 972C350 958 340 950 338 942C345 925 380 890 395 860L380 800Z" fill="#3B4A9F"/>
<circle cx="290" cy="846" r="96" fill="#fff"/>
</g>
<path id="arcTop" d="M1487 1183A66 66 0 0 1 1619 1183" fill="none"/>
<path id="arcBot" d="M1480.17 1156.49A77.5 77.5 0 1 0 1625.83 1156.49" fill="none"/>
<text style="font-family:'Liberation Sans',sans-serif;font-size:15px;letter-spacing:2.6px"><textPath href="#arcTop" startOffset="50%" text-anchor="middle">RHODE ISLAND</textPath></text>
<text style="font-family:'Liberation Serif',serif;font-weight:bold;font-size:16.5px;letter-spacing:3.4px"><textPath href="#arcBot" startOffset="50%" text-anchor="middle">DEPARTMENT OF HEALTH</textPath></text>
</svg></body></html>
